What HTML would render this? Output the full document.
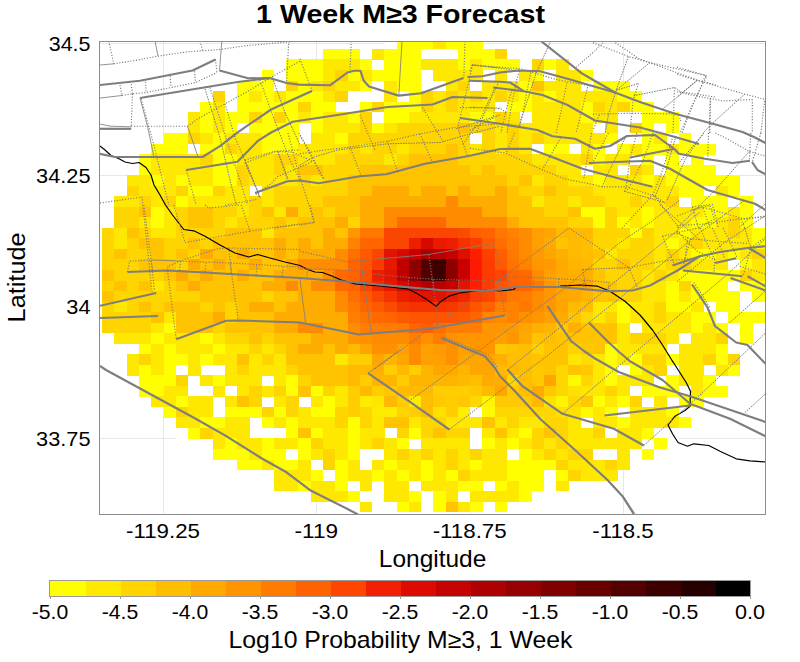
<!DOCTYPE html>
<html><head><meta charset="utf-8"><title>1 Week M≥3 Forecast</title>
<style>html,body{margin:0;padding:0;background:#fff;}svg{display:block;}text{font-family:"Liberation Sans",sans-serif;fill:#000;}</style>
</head><body>
<svg width="800" height="662" viewBox="0 0 800 662">
<rect x="0" y="0" width="800" height="662" fill="#fff"/>
<defs><clipPath id="pc"><rect x="100" y="42" width="665" height="472"/></clipPath></defs>
<g stroke="#e8e8e8" stroke-width="1" shape-rendering="crispEdges">
<line x1="163.5" y1="42" x2="163.5" y2="514"/>
<line x1="316.5" y1="42" x2="316.5" y2="514"/>
<line x1="470.5" y1="42" x2="470.5" y2="514"/>
<line x1="623.5" y1="42" x2="623.5" y2="514"/>
<line x1="100" y1="43.5" x2="765" y2="43.5"/>
<line x1="100" y1="175.5" x2="765" y2="175.5"/>
<line x1="100" y1="306.5" x2="765" y2="306.5"/>
<line x1="100" y1="438.5" x2="765" y2="438.5"/>
</g>
<g clip-path="url(#pc)" shape-rendering="crispEdges">
<rect x="384.30" y="38.39" width="85.87" height="10.83" fill="#fff"/>
<rect x="322.97" y="48.92" width="220.80" height="10.83" fill="#fff"/>
<rect x="286.17" y="59.45" width="294.40" height="10.83" fill="#fff"/>
<rect x="261.64" y="69.97" width="343.47" height="10.83" fill="#fff"/>
<rect x="237.10" y="80.50" width="392.53" height="10.83" fill="#fff"/>
<rect x="224.84" y="91.03" width="417.07" height="10.83" fill="#fff"/>
<rect x="200.30" y="101.56" width="466.13" height="10.83" fill="#fff"/>
<rect x="188.04" y="112.09" width="490.67" height="10.83" fill="#fff"/>
<rect x="175.77" y="122.61" width="515.20" height="10.83" fill="#fff"/>
<rect x="163.50" y="133.14" width="539.73" height="10.83" fill="#fff"/>
<rect x="151.24" y="143.67" width="564.27" height="10.83" fill="#fff"/>
<rect x="138.97" y="154.20" width="576.53" height="10.83" fill="#fff"/>
<rect x="138.97" y="164.73" width="588.80" height="10.83" fill="#fff"/>
<rect x="126.70" y="175.25" width="613.34" height="10.83" fill="#fff"/>
<rect x="126.70" y="185.78" width="613.34" height="10.83" fill="#fff"/>
<rect x="114.44" y="196.31" width="637.87" height="10.83" fill="#fff"/>
<rect x="114.44" y="206.84" width="637.87" height="10.83" fill="#fff"/>
<rect x="114.44" y="217.37" width="637.87" height="10.83" fill="#fff"/>
<rect x="102.17" y="227.89" width="662.40" height="10.83" fill="#fff"/>
<rect x="102.17" y="238.42" width="662.40" height="10.83" fill="#fff"/>
<rect x="102.17" y="248.95" width="662.40" height="10.83" fill="#fff"/>
<rect x="102.17" y="259.48" width="662.40" height="10.83" fill="#fff"/>
<rect x="102.17" y="270.01" width="662.40" height="10.83" fill="#fff"/>
<rect x="102.17" y="280.53" width="662.40" height="10.83" fill="#fff"/>
<rect x="102.17" y="291.06" width="662.40" height="10.83" fill="#fff"/>
<rect x="102.17" y="301.59" width="662.40" height="10.83" fill="#fff"/>
<rect x="102.17" y="312.12" width="662.40" height="10.83" fill="#fff"/>
<rect x="102.17" y="322.65" width="650.14" height="10.83" fill="#fff"/>
<rect x="114.44" y="333.17" width="637.87" height="10.83" fill="#fff"/>
<rect x="114.44" y="343.70" width="637.87" height="10.83" fill="#fff"/>
<rect x="114.44" y="354.23" width="625.60" height="10.83" fill="#fff"/>
<rect x="126.70" y="364.76" width="613.34" height="10.83" fill="#fff"/>
<rect x="126.70" y="375.29" width="601.07" height="10.83" fill="#fff"/>
<rect x="138.97" y="385.81" width="588.80" height="10.83" fill="#fff"/>
<rect x="151.24" y="396.34" width="564.27" height="10.83" fill="#fff"/>
<rect x="163.50" y="406.87" width="539.73" height="10.83" fill="#fff"/>
<rect x="163.50" y="417.40" width="527.47" height="10.83" fill="#fff"/>
<rect x="175.77" y="427.93" width="502.93" height="10.83" fill="#fff"/>
<rect x="200.30" y="438.45" width="466.13" height="10.83" fill="#fff"/>
<rect x="212.57" y="448.98" width="441.60" height="10.83" fill="#fff"/>
<rect x="224.84" y="459.51" width="417.07" height="10.83" fill="#fff"/>
<rect x="249.37" y="470.04" width="368.00" height="10.83" fill="#fff"/>
<rect x="273.90" y="480.57" width="318.93" height="10.83" fill="#fff"/>
<rect x="310.70" y="491.09" width="245.33" height="10.83" fill="#fff"/>
<rect x="347.50" y="501.62" width="171.73" height="10.83" fill="#fff"/>
<rect x="396.57" y="38.39" width="37.10" height="10.83" fill="#ffff00"/>
<rect x="433.37" y="38.39" width="12.57" height="10.83" fill="#ffe800"/>
<rect x="445.64" y="38.39" width="37.10" height="10.83" fill="#ffff00"/>
<rect x="322.97" y="48.92" width="37.10" height="10.83" fill="#ffff00"/>
<rect x="372.04" y="48.92" width="12.57" height="10.83" fill="#ffe800"/>
<rect x="384.30" y="48.92" width="37.10" height="10.83" fill="#ffff00"/>
<rect x="457.90" y="48.92" width="37.10" height="10.83" fill="#ffff00"/>
<rect x="494.70" y="48.92" width="12.57" height="10.83" fill="#ffd500"/>
<rect x="286.17" y="59.45" width="37.10" height="10.83" fill="#ffff00"/>
<rect x="322.97" y="59.45" width="37.10" height="10.83" fill="#ffe800"/>
<rect x="359.77" y="59.45" width="12.57" height="10.83" fill="#ffff00"/>
<rect x="384.30" y="59.45" width="37.10" height="10.83" fill="#ffff00"/>
<rect x="421.10" y="59.45" width="37.10" height="10.83" fill="#ffe800"/>
<rect x="457.90" y="59.45" width="12.57" height="10.83" fill="#ffff00"/>
<rect x="470.17" y="59.45" width="12.57" height="10.83" fill="#ffe800"/>
<rect x="482.44" y="59.45" width="37.10" height="10.83" fill="#ffff00"/>
<rect x="531.50" y="59.45" width="12.57" height="10.83" fill="#ffd500"/>
<rect x="543.77" y="59.45" width="12.57" height="10.83" fill="#ffff00"/>
<rect x="556.04" y="59.45" width="12.57" height="10.83" fill="#ffe800"/>
<rect x="261.64" y="69.97" width="12.57" height="10.83" fill="#ffff00"/>
<rect x="286.17" y="69.97" width="37.10" height="10.83" fill="#ffff00"/>
<rect x="322.97" y="69.97" width="12.57" height="10.83" fill="#ffe800"/>
<rect x="335.24" y="69.97" width="12.57" height="10.83" fill="#ffd500"/>
<rect x="347.50" y="69.97" width="12.57" height="10.83" fill="#ffff00"/>
<rect x="359.77" y="69.97" width="12.57" height="10.83" fill="#ffe800"/>
<rect x="372.04" y="69.97" width="49.37" height="10.83" fill="#ffff00"/>
<rect x="433.37" y="69.97" width="49.37" height="10.83" fill="#ffe800"/>
<rect x="494.70" y="69.97" width="12.57" height="10.83" fill="#ffe800"/>
<rect x="519.24" y="69.97" width="12.57" height="10.83" fill="#ffe800"/>
<rect x="531.50" y="69.97" width="12.57" height="10.83" fill="#ffff00"/>
<rect x="556.04" y="69.97" width="24.83" height="10.83" fill="#ffe800"/>
<rect x="580.57" y="69.97" width="12.57" height="10.83" fill="#ffff00"/>
<rect x="237.10" y="80.50" width="37.10" height="10.83" fill="#ffff00"/>
<rect x="286.17" y="80.50" width="12.57" height="10.83" fill="#ffd500"/>
<rect x="298.44" y="80.50" width="12.57" height="10.83" fill="#ffff00"/>
<rect x="310.70" y="80.50" width="12.57" height="10.83" fill="#ffe800"/>
<rect x="322.97" y="80.50" width="12.57" height="10.83" fill="#ffd500"/>
<rect x="335.24" y="80.50" width="24.83" height="10.83" fill="#ffe800"/>
<rect x="359.77" y="80.50" width="12.57" height="10.83" fill="#ffff00"/>
<rect x="384.30" y="80.50" width="12.57" height="10.83" fill="#ffe800"/>
<rect x="396.57" y="80.50" width="24.83" height="10.83" fill="#ffff00"/>
<rect x="445.64" y="80.50" width="12.57" height="10.83" fill="#ffe800"/>
<rect x="457.90" y="80.50" width="12.57" height="10.83" fill="#ffd500"/>
<rect x="482.44" y="80.50" width="37.10" height="10.83" fill="#ffe800"/>
<rect x="519.24" y="80.50" width="12.57" height="10.83" fill="#ffff00"/>
<rect x="531.50" y="80.50" width="12.57" height="10.83" fill="#ffc300"/>
<rect x="543.77" y="80.50" width="37.10" height="10.83" fill="#ffe800"/>
<rect x="592.84" y="80.50" width="37.10" height="10.83" fill="#ffff00"/>
<rect x="212.57" y="91.03" width="12.57" height="10.83" fill="#ffd500"/>
<rect x="237.10" y="91.03" width="12.57" height="10.83" fill="#ffff00"/>
<rect x="249.37" y="91.03" width="12.57" height="10.83" fill="#ffe800"/>
<rect x="261.64" y="91.03" width="12.57" height="10.83" fill="#ffff00"/>
<rect x="273.90" y="91.03" width="12.57" height="10.83" fill="#ffe800"/>
<rect x="286.17" y="91.03" width="37.10" height="10.83" fill="#ffff00"/>
<rect x="322.97" y="91.03" width="12.57" height="10.83" fill="#ffe800"/>
<rect x="335.24" y="91.03" width="12.57" height="10.83" fill="#ffd500"/>
<rect x="384.30" y="91.03" width="12.57" height="10.83" fill="#ffe800"/>
<rect x="408.84" y="91.03" width="12.57" height="10.83" fill="#ffff00"/>
<rect x="421.10" y="91.03" width="12.57" height="10.83" fill="#ffd500"/>
<rect x="433.37" y="91.03" width="12.57" height="10.83" fill="#ffe800"/>
<rect x="445.64" y="91.03" width="12.57" height="10.83" fill="#ffd500"/>
<rect x="457.90" y="91.03" width="12.57" height="10.83" fill="#ffe800"/>
<rect x="470.17" y="91.03" width="12.57" height="10.83" fill="#ffd500"/>
<rect x="482.44" y="91.03" width="12.57" height="10.83" fill="#ffe800"/>
<rect x="494.70" y="91.03" width="12.57" height="10.83" fill="#ffd500"/>
<rect x="506.97" y="91.03" width="12.57" height="10.83" fill="#ffe800"/>
<rect x="519.24" y="91.03" width="12.57" height="10.83" fill="#ffff00"/>
<rect x="531.50" y="91.03" width="12.57" height="10.83" fill="#ffe800"/>
<rect x="543.77" y="91.03" width="12.57" height="10.83" fill="#ffff00"/>
<rect x="556.04" y="91.03" width="61.63" height="10.83" fill="#ffe800"/>
<rect x="617.37" y="91.03" width="24.83" height="10.83" fill="#ffff00"/>
<rect x="200.30" y="101.56" width="12.57" height="10.83" fill="#ffff00"/>
<rect x="212.57" y="101.56" width="12.57" height="10.83" fill="#ffe800"/>
<rect x="237.10" y="101.56" width="61.63" height="10.83" fill="#ffff00"/>
<rect x="298.44" y="101.56" width="12.57" height="10.83" fill="#ffd500"/>
<rect x="310.70" y="101.56" width="24.83" height="10.83" fill="#ffff00"/>
<rect x="359.77" y="101.56" width="12.57" height="10.83" fill="#ffff00"/>
<rect x="372.04" y="101.56" width="12.57" height="10.83" fill="#ffd500"/>
<rect x="384.30" y="101.56" width="37.10" height="10.83" fill="#ffff00"/>
<rect x="421.10" y="101.56" width="12.57" height="10.83" fill="#ffd500"/>
<rect x="433.37" y="101.56" width="12.57" height="10.83" fill="#ffe800"/>
<rect x="445.64" y="101.56" width="12.57" height="10.83" fill="#ffd500"/>
<rect x="457.90" y="101.56" width="37.10" height="10.83" fill="#ffe800"/>
<rect x="506.97" y="101.56" width="24.83" height="10.83" fill="#ffff00"/>
<rect x="531.50" y="101.56" width="49.37" height="10.83" fill="#ffe800"/>
<rect x="580.57" y="101.56" width="12.57" height="10.83" fill="#ffff00"/>
<rect x="592.84" y="101.56" width="12.57" height="10.83" fill="#ffd500"/>
<rect x="605.10" y="101.56" width="12.57" height="10.83" fill="#ffe800"/>
<rect x="617.37" y="101.56" width="12.57" height="10.83" fill="#ffd500"/>
<rect x="629.64" y="101.56" width="24.83" height="10.83" fill="#ffff00"/>
<rect x="188.04" y="112.09" width="12.57" height="10.83" fill="#ffe800"/>
<rect x="200.30" y="112.09" width="12.57" height="10.83" fill="#ffff00"/>
<rect x="212.57" y="112.09" width="12.57" height="10.83" fill="#ffe800"/>
<rect x="224.84" y="112.09" width="24.83" height="10.83" fill="#ffff00"/>
<rect x="249.37" y="112.09" width="12.57" height="10.83" fill="#ffd500"/>
<rect x="261.64" y="112.09" width="12.57" height="10.83" fill="#ffff00"/>
<rect x="273.90" y="112.09" width="12.57" height="10.83" fill="#ffd500"/>
<rect x="286.17" y="112.09" width="12.57" height="10.83" fill="#ffff00"/>
<rect x="298.44" y="112.09" width="12.57" height="10.83" fill="#ffe800"/>
<rect x="310.70" y="112.09" width="12.57" height="10.83" fill="#ffff00"/>
<rect x="322.97" y="112.09" width="24.83" height="10.83" fill="#ffe800"/>
<rect x="347.50" y="112.09" width="12.57" height="10.83" fill="#ffff00"/>
<rect x="359.77" y="112.09" width="12.57" height="10.83" fill="#ffd500"/>
<rect x="384.30" y="112.09" width="24.83" height="10.83" fill="#ffff00"/>
<rect x="408.84" y="112.09" width="61.63" height="10.83" fill="#ffe800"/>
<rect x="470.17" y="112.09" width="24.83" height="10.83" fill="#ffff00"/>
<rect x="494.70" y="112.09" width="12.57" height="10.83" fill="#ffd500"/>
<rect x="506.97" y="112.09" width="12.57" height="10.83" fill="#ffe800"/>
<rect x="531.50" y="112.09" width="49.37" height="10.83" fill="#ffe800"/>
<rect x="580.57" y="112.09" width="12.57" height="10.83" fill="#ffff00"/>
<rect x="592.84" y="112.09" width="24.83" height="10.83" fill="#ffe800"/>
<rect x="641.90" y="112.09" width="37.10" height="10.83" fill="#ffff00"/>
<rect x="188.04" y="122.61" width="12.57" height="10.83" fill="#ffe800"/>
<rect x="200.30" y="122.61" width="12.57" height="10.83" fill="#ffff00"/>
<rect x="212.57" y="122.61" width="12.57" height="10.83" fill="#ffe800"/>
<rect x="224.84" y="122.61" width="12.57" height="10.83" fill="#ffff00"/>
<rect x="249.37" y="122.61" width="49.37" height="10.83" fill="#ffff00"/>
<rect x="310.70" y="122.61" width="12.57" height="10.83" fill="#ffff00"/>
<rect x="322.97" y="122.61" width="37.10" height="10.83" fill="#ffe800"/>
<rect x="359.77" y="122.61" width="12.57" height="10.83" fill="#ffd500"/>
<rect x="372.04" y="122.61" width="12.57" height="10.83" fill="#ffff00"/>
<rect x="384.30" y="122.61" width="12.57" height="10.83" fill="#ffe800"/>
<rect x="396.57" y="122.61" width="61.63" height="10.83" fill="#ffd500"/>
<rect x="457.90" y="122.61" width="12.57" height="10.83" fill="#ffc300"/>
<rect x="470.17" y="122.61" width="24.83" height="10.83" fill="#ffd500"/>
<rect x="494.70" y="122.61" width="12.57" height="10.83" fill="#ffe800"/>
<rect x="506.97" y="122.61" width="12.57" height="10.83" fill="#ffd500"/>
<rect x="519.24" y="122.61" width="73.90" height="10.83" fill="#ffe800"/>
<rect x="605.10" y="122.61" width="12.57" height="10.83" fill="#ffe800"/>
<rect x="629.64" y="122.61" width="12.57" height="10.83" fill="#ffd500"/>
<rect x="641.90" y="122.61" width="12.57" height="10.83" fill="#ffff00"/>
<rect x="666.44" y="122.61" width="12.57" height="10.83" fill="#ffff00"/>
<rect x="163.50" y="133.14" width="24.83" height="10.83" fill="#ffff00"/>
<rect x="188.04" y="133.14" width="12.57" height="10.83" fill="#ffd500"/>
<rect x="200.30" y="133.14" width="12.57" height="10.83" fill="#ffe800"/>
<rect x="212.57" y="133.14" width="12.57" height="10.83" fill="#ffff00"/>
<rect x="224.84" y="133.14" width="37.10" height="10.83" fill="#ffe800"/>
<rect x="261.64" y="133.14" width="37.10" height="10.83" fill="#ffff00"/>
<rect x="310.70" y="133.14" width="24.83" height="10.83" fill="#ffe800"/>
<rect x="335.24" y="133.14" width="12.57" height="10.83" fill="#ffff00"/>
<rect x="347.50" y="133.14" width="122.97" height="10.83" fill="#ffd500"/>
<rect x="482.44" y="133.14" width="12.57" height="10.83" fill="#ffd500"/>
<rect x="494.70" y="133.14" width="12.57" height="10.83" fill="#ffe800"/>
<rect x="506.97" y="133.14" width="12.57" height="10.83" fill="#ffd500"/>
<rect x="519.24" y="133.14" width="12.57" height="10.83" fill="#ffe800"/>
<rect x="531.50" y="133.14" width="12.57" height="10.83" fill="#ffd500"/>
<rect x="543.77" y="133.14" width="61.63" height="10.83" fill="#ffe800"/>
<rect x="605.10" y="133.14" width="12.57" height="10.83" fill="#ffff00"/>
<rect x="641.90" y="133.14" width="12.57" height="10.83" fill="#ffff00"/>
<rect x="654.17" y="133.14" width="12.57" height="10.83" fill="#ffe800"/>
<rect x="678.70" y="133.14" width="12.57" height="10.83" fill="#ffff00"/>
<rect x="151.24" y="143.67" width="37.10" height="10.83" fill="#ffff00"/>
<rect x="200.30" y="143.67" width="24.83" height="10.83" fill="#ffff00"/>
<rect x="224.84" y="143.67" width="12.57" height="10.83" fill="#ffd500"/>
<rect x="237.10" y="143.67" width="24.83" height="10.83" fill="#ffe800"/>
<rect x="261.64" y="143.67" width="37.10" height="10.83" fill="#ffff00"/>
<rect x="298.44" y="143.67" width="49.37" height="10.83" fill="#ffe800"/>
<rect x="347.50" y="143.67" width="12.57" height="10.83" fill="#ffd500"/>
<rect x="359.77" y="143.67" width="12.57" height="10.83" fill="#ffe800"/>
<rect x="372.04" y="143.67" width="24.83" height="10.83" fill="#ffd500"/>
<rect x="396.57" y="143.67" width="12.57" height="10.83" fill="#ffe800"/>
<rect x="408.84" y="143.67" width="37.10" height="10.83" fill="#ffd500"/>
<rect x="445.64" y="143.67" width="12.57" height="10.83" fill="#ffc300"/>
<rect x="457.90" y="143.67" width="12.57" height="10.83" fill="#ffd500"/>
<rect x="470.17" y="143.67" width="12.57" height="10.83" fill="#ffe800"/>
<rect x="482.44" y="143.67" width="12.57" height="10.83" fill="#ffd500"/>
<rect x="494.70" y="143.67" width="12.57" height="10.83" fill="#ffe800"/>
<rect x="506.97" y="143.67" width="12.57" height="10.83" fill="#ffd500"/>
<rect x="519.24" y="143.67" width="12.57" height="10.83" fill="#ffe800"/>
<rect x="543.77" y="143.67" width="24.83" height="10.83" fill="#ffff00"/>
<rect x="580.57" y="143.67" width="12.57" height="10.83" fill="#ffe800"/>
<rect x="592.84" y="143.67" width="12.57" height="10.83" fill="#ffff00"/>
<rect x="617.37" y="143.67" width="12.57" height="10.83" fill="#ffff00"/>
<rect x="629.64" y="143.67" width="12.57" height="10.83" fill="#ffe800"/>
<rect x="641.90" y="143.67" width="24.83" height="10.83" fill="#ffff00"/>
<rect x="666.44" y="143.67" width="12.57" height="10.83" fill="#ffe800"/>
<rect x="678.70" y="143.67" width="37.10" height="10.83" fill="#ffff00"/>
<rect x="138.97" y="154.20" width="12.57" height="10.83" fill="#ffff00"/>
<rect x="151.24" y="154.20" width="49.37" height="10.83" fill="#ffe800"/>
<rect x="200.30" y="154.20" width="12.57" height="10.83" fill="#ffd500"/>
<rect x="212.57" y="154.20" width="24.83" height="10.83" fill="#ffff00"/>
<rect x="237.10" y="154.20" width="37.10" height="10.83" fill="#ffe800"/>
<rect x="273.90" y="154.20" width="24.83" height="10.83" fill="#ffd500"/>
<rect x="298.44" y="154.20" width="37.10" height="10.83" fill="#ffe800"/>
<rect x="335.24" y="154.20" width="49.37" height="10.83" fill="#ffd500"/>
<rect x="384.30" y="154.20" width="12.57" height="10.83" fill="#ffe800"/>
<rect x="396.57" y="154.20" width="12.57" height="10.83" fill="#ffd500"/>
<rect x="408.84" y="154.20" width="49.37" height="10.83" fill="#ffc300"/>
<rect x="457.90" y="154.20" width="73.90" height="10.83" fill="#ffd500"/>
<rect x="531.50" y="154.20" width="49.37" height="10.83" fill="#ffe800"/>
<rect x="580.57" y="154.20" width="12.57" height="10.83" fill="#ffd500"/>
<rect x="592.84" y="154.20" width="12.57" height="10.83" fill="#ffff00"/>
<rect x="605.10" y="154.20" width="24.83" height="10.83" fill="#ffe800"/>
<rect x="641.90" y="154.20" width="12.57" height="10.83" fill="#ffff00"/>
<rect x="666.44" y="154.20" width="12.57" height="10.83" fill="#ffff00"/>
<rect x="690.97" y="154.20" width="12.57" height="10.83" fill="#ffff00"/>
<rect x="138.97" y="164.73" width="12.57" height="10.83" fill="#ffff00"/>
<rect x="151.24" y="164.73" width="61.63" height="10.83" fill="#ffe800"/>
<rect x="212.57" y="164.73" width="24.83" height="10.83" fill="#ffff00"/>
<rect x="237.10" y="164.73" width="12.57" height="10.83" fill="#ffd500"/>
<rect x="249.37" y="164.73" width="24.83" height="10.83" fill="#ffe800"/>
<rect x="273.90" y="164.73" width="12.57" height="10.83" fill="#ffd500"/>
<rect x="286.17" y="164.73" width="12.57" height="10.83" fill="#ffe800"/>
<rect x="298.44" y="164.73" width="24.83" height="10.83" fill="#ffc300"/>
<rect x="322.97" y="164.73" width="37.10" height="10.83" fill="#ffd500"/>
<rect x="359.77" y="164.73" width="110.70" height="10.83" fill="#ffc300"/>
<rect x="470.17" y="164.73" width="12.57" height="10.83" fill="#ffd500"/>
<rect x="482.44" y="164.73" width="12.57" height="10.83" fill="#ffc300"/>
<rect x="494.70" y="164.73" width="61.63" height="10.83" fill="#ffd500"/>
<rect x="556.04" y="164.73" width="24.83" height="10.83" fill="#ffe800"/>
<rect x="592.84" y="164.73" width="24.83" height="10.83" fill="#ffe800"/>
<rect x="629.64" y="164.73" width="12.57" height="10.83" fill="#ffd500"/>
<rect x="641.90" y="164.73" width="12.57" height="10.83" fill="#ffe800"/>
<rect x="666.44" y="164.73" width="49.37" height="10.83" fill="#ffff00"/>
<rect x="126.70" y="175.25" width="24.83" height="10.83" fill="#ffe800"/>
<rect x="151.24" y="175.25" width="12.57" height="10.83" fill="#ffff00"/>
<rect x="163.50" y="175.25" width="12.57" height="10.83" fill="#ffe800"/>
<rect x="175.77" y="175.25" width="12.57" height="10.83" fill="#ffff00"/>
<rect x="188.04" y="175.25" width="24.83" height="10.83" fill="#ffe800"/>
<rect x="212.57" y="175.25" width="24.83" height="10.83" fill="#ffff00"/>
<rect x="237.10" y="175.25" width="12.57" height="10.83" fill="#ffd500"/>
<rect x="249.37" y="175.25" width="49.37" height="10.83" fill="#ffe800"/>
<rect x="298.44" y="175.25" width="12.57" height="10.83" fill="#ffd500"/>
<rect x="310.70" y="175.25" width="12.57" height="10.83" fill="#ffe800"/>
<rect x="322.97" y="175.25" width="24.83" height="10.83" fill="#ffd500"/>
<rect x="347.50" y="175.25" width="159.77" height="10.83" fill="#ffc300"/>
<rect x="506.97" y="175.25" width="12.57" height="10.83" fill="#ffd500"/>
<rect x="519.24" y="175.25" width="12.57" height="10.83" fill="#ffc300"/>
<rect x="531.50" y="175.25" width="12.57" height="10.83" fill="#ffe800"/>
<rect x="543.77" y="175.25" width="24.83" height="10.83" fill="#ffd500"/>
<rect x="568.30" y="175.25" width="24.83" height="10.83" fill="#ffe800"/>
<rect x="592.84" y="175.25" width="12.57" height="10.83" fill="#ffff00"/>
<rect x="605.10" y="175.25" width="37.10" height="10.83" fill="#ffe800"/>
<rect x="641.90" y="175.25" width="12.57" height="10.83" fill="#ffff00"/>
<rect x="654.17" y="175.25" width="12.57" height="10.83" fill="#ffe800"/>
<rect x="666.44" y="175.25" width="73.90" height="10.83" fill="#ffff00"/>
<rect x="126.70" y="185.78" width="12.57" height="10.83" fill="#ffd500"/>
<rect x="138.97" y="185.78" width="37.10" height="10.83" fill="#ffe800"/>
<rect x="175.77" y="185.78" width="12.57" height="10.83" fill="#ffd500"/>
<rect x="188.04" y="185.78" width="24.83" height="10.83" fill="#ffff00"/>
<rect x="212.57" y="185.78" width="12.57" height="10.83" fill="#ffd500"/>
<rect x="224.84" y="185.78" width="24.83" height="10.83" fill="#ffe800"/>
<rect x="261.64" y="185.78" width="12.57" height="10.83" fill="#ffe800"/>
<rect x="273.90" y="185.78" width="73.90" height="10.83" fill="#ffd500"/>
<rect x="347.50" y="185.78" width="24.83" height="10.83" fill="#ffc300"/>
<rect x="372.04" y="185.78" width="37.10" height="10.83" fill="#ffac00"/>
<rect x="408.84" y="185.78" width="12.57" height="10.83" fill="#ffc300"/>
<rect x="421.10" y="185.78" width="24.83" height="10.83" fill="#ffac00"/>
<rect x="445.64" y="185.78" width="12.57" height="10.83" fill="#ffc300"/>
<rect x="457.90" y="185.78" width="12.57" height="10.83" fill="#ffac00"/>
<rect x="470.17" y="185.78" width="24.83" height="10.83" fill="#ffc300"/>
<rect x="494.70" y="185.78" width="12.57" height="10.83" fill="#ffac00"/>
<rect x="506.97" y="185.78" width="12.57" height="10.83" fill="#ffc300"/>
<rect x="519.24" y="185.78" width="24.83" height="10.83" fill="#ffd500"/>
<rect x="543.77" y="185.78" width="12.57" height="10.83" fill="#ffc300"/>
<rect x="556.04" y="185.78" width="37.10" height="10.83" fill="#ffd500"/>
<rect x="592.84" y="185.78" width="86.17" height="10.83" fill="#ffe800"/>
<rect x="678.70" y="185.78" width="24.83" height="10.83" fill="#ffff00"/>
<rect x="715.50" y="185.78" width="12.57" height="10.83" fill="#ffe800"/>
<rect x="727.77" y="185.78" width="12.57" height="10.83" fill="#ffff00"/>
<rect x="114.44" y="196.31" width="24.83" height="10.83" fill="#ffe800"/>
<rect x="138.97" y="196.31" width="12.57" height="10.83" fill="#ffd500"/>
<rect x="151.24" y="196.31" width="12.57" height="10.83" fill="#ffe800"/>
<rect x="163.50" y="196.31" width="12.57" height="10.83" fill="#ffd500"/>
<rect x="175.77" y="196.31" width="12.57" height="10.83" fill="#ffff00"/>
<rect x="188.04" y="196.31" width="61.63" height="10.83" fill="#ffe800"/>
<rect x="249.37" y="196.31" width="12.57" height="10.83" fill="#ffd500"/>
<rect x="261.64" y="196.31" width="12.57" height="10.83" fill="#ffe800"/>
<rect x="273.90" y="196.31" width="49.37" height="10.83" fill="#ffd500"/>
<rect x="322.97" y="196.31" width="37.10" height="10.83" fill="#ffc300"/>
<rect x="359.77" y="196.31" width="86.17" height="10.83" fill="#ffac00"/>
<rect x="445.64" y="196.31" width="12.57" height="10.83" fill="#ff8c00"/>
<rect x="457.90" y="196.31" width="49.37" height="10.83" fill="#ffac00"/>
<rect x="506.97" y="196.31" width="24.83" height="10.83" fill="#ffc300"/>
<rect x="531.50" y="196.31" width="12.57" height="10.83" fill="#ffe800"/>
<rect x="543.77" y="196.31" width="24.83" height="10.83" fill="#ffd500"/>
<rect x="568.30" y="196.31" width="12.57" height="10.83" fill="#ffe800"/>
<rect x="580.57" y="196.31" width="24.83" height="10.83" fill="#ffd500"/>
<rect x="605.10" y="196.31" width="24.83" height="10.83" fill="#ffe800"/>
<rect x="629.64" y="196.31" width="12.57" height="10.83" fill="#ffd500"/>
<rect x="641.90" y="196.31" width="24.83" height="10.83" fill="#ffe800"/>
<rect x="666.44" y="196.31" width="12.57" height="10.83" fill="#ffd500"/>
<rect x="690.97" y="196.31" width="37.10" height="10.83" fill="#ffff00"/>
<rect x="740.04" y="196.31" width="12.57" height="10.83" fill="#ffff00"/>
<rect x="114.44" y="206.84" width="24.83" height="10.83" fill="#ffd500"/>
<rect x="138.97" y="206.84" width="12.57" height="10.83" fill="#ffc300"/>
<rect x="151.24" y="206.84" width="12.57" height="10.83" fill="#ffff00"/>
<rect x="163.50" y="206.84" width="12.57" height="10.83" fill="#ffe800"/>
<rect x="175.77" y="206.84" width="12.57" height="10.83" fill="#ffd500"/>
<rect x="188.04" y="206.84" width="24.83" height="10.83" fill="#ffc300"/>
<rect x="212.57" y="206.84" width="24.83" height="10.83" fill="#ffd500"/>
<rect x="237.10" y="206.84" width="12.57" height="10.83" fill="#ffe800"/>
<rect x="249.37" y="206.84" width="12.57" height="10.83" fill="#ffd500"/>
<rect x="261.64" y="206.84" width="12.57" height="10.83" fill="#ffc300"/>
<rect x="273.90" y="206.84" width="12.57" height="10.83" fill="#ffe800"/>
<rect x="286.17" y="206.84" width="12.57" height="10.83" fill="#ffac00"/>
<rect x="298.44" y="206.84" width="12.57" height="10.83" fill="#ffd500"/>
<rect x="310.70" y="206.84" width="12.57" height="10.83" fill="#ffc300"/>
<rect x="322.97" y="206.84" width="12.57" height="10.83" fill="#ffd500"/>
<rect x="335.24" y="206.84" width="24.83" height="10.83" fill="#ffc300"/>
<rect x="359.77" y="206.84" width="24.83" height="10.83" fill="#ffac00"/>
<rect x="384.30" y="206.84" width="98.43" height="10.83" fill="#ff8c00"/>
<rect x="482.44" y="206.84" width="24.83" height="10.83" fill="#ffac00"/>
<rect x="506.97" y="206.84" width="37.10" height="10.83" fill="#ffc300"/>
<rect x="543.77" y="206.84" width="24.83" height="10.83" fill="#ffd500"/>
<rect x="568.30" y="206.84" width="12.57" height="10.83" fill="#ffc300"/>
<rect x="580.57" y="206.84" width="24.83" height="10.83" fill="#ffff00"/>
<rect x="605.10" y="206.84" width="12.57" height="10.83" fill="#ffd500"/>
<rect x="617.37" y="206.84" width="24.83" height="10.83" fill="#ffe800"/>
<rect x="641.90" y="206.84" width="12.57" height="10.83" fill="#ffff00"/>
<rect x="654.17" y="206.84" width="49.37" height="10.83" fill="#ffe800"/>
<rect x="703.24" y="206.84" width="24.83" height="10.83" fill="#ffff00"/>
<rect x="727.77" y="206.84" width="12.57" height="10.83" fill="#ffe800"/>
<rect x="740.04" y="206.84" width="12.57" height="10.83" fill="#ffff00"/>
<rect x="114.44" y="217.37" width="24.83" height="10.83" fill="#ffd500"/>
<rect x="138.97" y="217.37" width="12.57" height="10.83" fill="#ffe800"/>
<rect x="151.24" y="217.37" width="12.57" height="10.83" fill="#ffff00"/>
<rect x="163.50" y="217.37" width="12.57" height="10.83" fill="#ffe800"/>
<rect x="175.77" y="217.37" width="12.57" height="10.83" fill="#ffd500"/>
<rect x="188.04" y="217.37" width="24.83" height="10.83" fill="#ffc300"/>
<rect x="212.57" y="217.37" width="12.57" height="10.83" fill="#ffd500"/>
<rect x="224.84" y="217.37" width="12.57" height="10.83" fill="#ffe800"/>
<rect x="237.10" y="217.37" width="37.10" height="10.83" fill="#ffd500"/>
<rect x="273.90" y="217.37" width="12.57" height="10.83" fill="#ffc300"/>
<rect x="286.17" y="217.37" width="12.57" height="10.83" fill="#ffd500"/>
<rect x="298.44" y="217.37" width="37.10" height="10.83" fill="#ffc300"/>
<rect x="335.24" y="217.37" width="12.57" height="10.83" fill="#ffac00"/>
<rect x="347.50" y="217.37" width="12.57" height="10.83" fill="#ffd500"/>
<rect x="359.77" y="217.37" width="24.83" height="10.83" fill="#ffac00"/>
<rect x="384.30" y="217.37" width="12.57" height="10.83" fill="#ff8c00"/>
<rect x="396.57" y="217.37" width="49.37" height="10.83" fill="#ff6900"/>
<rect x="445.64" y="217.37" width="61.63" height="10.83" fill="#ff8c00"/>
<rect x="506.97" y="217.37" width="12.57" height="10.83" fill="#ffac00"/>
<rect x="519.24" y="217.37" width="49.37" height="10.83" fill="#ffc300"/>
<rect x="568.30" y="217.37" width="24.83" height="10.83" fill="#ffd500"/>
<rect x="592.84" y="217.37" width="12.57" height="10.83" fill="#ffff00"/>
<rect x="605.10" y="217.37" width="12.57" height="10.83" fill="#ffd500"/>
<rect x="617.37" y="217.37" width="12.57" height="10.83" fill="#ffff00"/>
<rect x="629.64" y="217.37" width="12.57" height="10.83" fill="#ffe800"/>
<rect x="641.90" y="217.37" width="12.57" height="10.83" fill="#ffff00"/>
<rect x="654.17" y="217.37" width="37.10" height="10.83" fill="#ffe800"/>
<rect x="690.97" y="217.37" width="24.83" height="10.83" fill="#ffff00"/>
<rect x="715.50" y="217.37" width="12.57" height="10.83" fill="#ffe800"/>
<rect x="727.77" y="217.37" width="12.57" height="10.83" fill="#ffd500"/>
<rect x="740.04" y="217.37" width="12.57" height="10.83" fill="#ffff00"/>
<rect x="102.17" y="227.89" width="12.57" height="10.83" fill="#ffd500"/>
<rect x="114.44" y="227.89" width="12.57" height="10.83" fill="#ffe800"/>
<rect x="126.70" y="227.89" width="12.57" height="10.83" fill="#ffc300"/>
<rect x="138.97" y="227.89" width="12.57" height="10.83" fill="#ffd500"/>
<rect x="151.24" y="227.89" width="24.83" height="10.83" fill="#ffe800"/>
<rect x="175.77" y="227.89" width="49.37" height="10.83" fill="#ffd500"/>
<rect x="224.84" y="227.89" width="37.10" height="10.83" fill="#ffc300"/>
<rect x="261.64" y="227.89" width="12.57" height="10.83" fill="#ffe800"/>
<rect x="273.90" y="227.89" width="49.37" height="10.83" fill="#ffc300"/>
<rect x="322.97" y="227.89" width="12.57" height="10.83" fill="#ffac00"/>
<rect x="335.24" y="227.89" width="12.57" height="10.83" fill="#ffc300"/>
<rect x="347.50" y="227.89" width="12.57" height="10.83" fill="#ff9600"/>
<rect x="359.77" y="227.89" width="24.83" height="10.83" fill="#ff7800"/>
<rect x="384.30" y="227.89" width="73.90" height="10.83" fill="#fa4600"/>
<rect x="457.90" y="227.89" width="12.57" height="10.83" fill="#fa4b00"/>
<rect x="470.17" y="227.89" width="12.57" height="10.83" fill="#ff5f00"/>
<rect x="482.44" y="227.89" width="12.57" height="10.83" fill="#ff6400"/>
<rect x="494.70" y="227.89" width="12.57" height="10.83" fill="#ff7800"/>
<rect x="506.97" y="227.89" width="12.57" height="10.83" fill="#ff8200"/>
<rect x="519.24" y="227.89" width="12.57" height="10.83" fill="#ff8c00"/>
<rect x="531.50" y="227.89" width="12.57" height="10.83" fill="#ffa000"/>
<rect x="543.77" y="227.89" width="12.57" height="10.83" fill="#ffa500"/>
<rect x="556.04" y="227.89" width="37.10" height="10.83" fill="#ffb900"/>
<rect x="592.84" y="227.89" width="37.10" height="10.83" fill="#ffd500"/>
<rect x="629.64" y="227.89" width="12.57" height="10.83" fill="#ffff00"/>
<rect x="641.90" y="227.89" width="12.57" height="10.83" fill="#ffd500"/>
<rect x="654.17" y="227.89" width="24.83" height="10.83" fill="#ffe800"/>
<rect x="678.70" y="227.89" width="12.57" height="10.83" fill="#ffff00"/>
<rect x="690.97" y="227.89" width="37.10" height="10.83" fill="#ffe800"/>
<rect x="727.77" y="227.89" width="12.57" height="10.83" fill="#ffd500"/>
<rect x="740.04" y="227.89" width="12.57" height="10.83" fill="#ffe800"/>
<rect x="752.31" y="227.89" width="24.83" height="10.83" fill="#ffff00"/>
<rect x="102.17" y="238.42" width="12.57" height="10.83" fill="#ffd500"/>
<rect x="114.44" y="238.42" width="12.57" height="10.83" fill="#ffe800"/>
<rect x="126.70" y="238.42" width="12.57" height="10.83" fill="#ffd500"/>
<rect x="138.97" y="238.42" width="24.83" height="10.83" fill="#ffc300"/>
<rect x="163.50" y="238.42" width="24.83" height="10.83" fill="#ffd500"/>
<rect x="188.04" y="238.42" width="12.57" height="10.83" fill="#ffc300"/>
<rect x="200.30" y="238.42" width="12.57" height="10.83" fill="#ffd500"/>
<rect x="212.57" y="238.42" width="61.63" height="10.83" fill="#ffc300"/>
<rect x="273.90" y="238.42" width="12.57" height="10.83" fill="#ffac00"/>
<rect x="286.17" y="238.42" width="12.57" height="10.83" fill="#ffc300"/>
<rect x="298.44" y="238.42" width="12.57" height="10.83" fill="#ffac00"/>
<rect x="310.70" y="238.42" width="12.57" height="10.83" fill="#ffc300"/>
<rect x="322.97" y="238.42" width="24.83" height="10.83" fill="#ffac00"/>
<rect x="347.50" y="238.42" width="12.57" height="10.83" fill="#ff8200"/>
<rect x="359.77" y="238.42" width="24.83" height="10.83" fill="#ff6400"/>
<rect x="384.30" y="238.42" width="24.83" height="10.83" fill="#fa4600"/>
<rect x="408.84" y="238.42" width="12.57" height="10.83" fill="#f01e00"/>
<rect x="421.10" y="238.42" width="12.57" height="10.83" fill="#d70800"/>
<rect x="433.37" y="238.42" width="12.57" height="10.83" fill="#eb1900"/>
<rect x="445.64" y="238.42" width="12.57" height="10.83" fill="#f01e00"/>
<rect x="457.90" y="238.42" width="12.57" height="10.83" fill="#f53200"/>
<rect x="470.17" y="238.42" width="12.57" height="10.83" fill="#ff3c00"/>
<rect x="482.44" y="238.42" width="12.57" height="10.83" fill="#ff5a00"/>
<rect x="494.70" y="238.42" width="12.57" height="10.83" fill="#ff6e00"/>
<rect x="506.97" y="238.42" width="12.57" height="10.83" fill="#ff7d00"/>
<rect x="519.24" y="238.42" width="12.57" height="10.83" fill="#ff8c00"/>
<rect x="531.50" y="238.42" width="12.57" height="10.83" fill="#ffa000"/>
<rect x="543.77" y="238.42" width="12.57" height="10.83" fill="#ffaa00"/>
<rect x="556.04" y="238.42" width="12.57" height="10.83" fill="#ffc300"/>
<rect x="568.30" y="238.42" width="12.57" height="10.83" fill="#ffb900"/>
<rect x="580.57" y="238.42" width="12.57" height="10.83" fill="#ffbe00"/>
<rect x="592.84" y="238.42" width="24.83" height="10.83" fill="#ffd500"/>
<rect x="617.37" y="238.42" width="12.57" height="10.83" fill="#ffe800"/>
<rect x="629.64" y="238.42" width="24.83" height="10.83" fill="#ffd500"/>
<rect x="654.17" y="238.42" width="12.57" height="10.83" fill="#ffe800"/>
<rect x="666.44" y="238.42" width="12.57" height="10.83" fill="#ffff00"/>
<rect x="678.70" y="238.42" width="12.57" height="10.83" fill="#ffe800"/>
<rect x="690.97" y="238.42" width="12.57" height="10.83" fill="#ffd500"/>
<rect x="703.24" y="238.42" width="49.37" height="10.83" fill="#ffe800"/>
<rect x="752.31" y="238.42" width="24.83" height="10.83" fill="#ffff00"/>
<rect x="102.17" y="248.95" width="12.57" height="10.83" fill="#ffd500"/>
<rect x="114.44" y="248.95" width="12.57" height="10.83" fill="#ffc300"/>
<rect x="126.70" y="248.95" width="24.83" height="10.83" fill="#ffd500"/>
<rect x="151.24" y="248.95" width="12.57" height="10.83" fill="#ffc300"/>
<rect x="163.50" y="248.95" width="12.57" height="10.83" fill="#ffd500"/>
<rect x="175.77" y="248.95" width="12.57" height="10.83" fill="#ffc300"/>
<rect x="188.04" y="248.95" width="12.57" height="10.83" fill="#ffd500"/>
<rect x="200.30" y="248.95" width="12.57" height="10.83" fill="#ffac00"/>
<rect x="212.57" y="248.95" width="24.83" height="10.83" fill="#ffc300"/>
<rect x="237.10" y="248.95" width="12.57" height="10.83" fill="#ffac00"/>
<rect x="249.37" y="248.95" width="24.83" height="10.83" fill="#ffc300"/>
<rect x="273.90" y="248.95" width="12.57" height="10.83" fill="#ffac00"/>
<rect x="286.17" y="248.95" width="12.57" height="10.83" fill="#ffc300"/>
<rect x="298.44" y="248.95" width="37.10" height="10.83" fill="#ffac00"/>
<rect x="335.24" y="248.95" width="12.57" height="10.83" fill="#ff8c00"/>
<rect x="347.50" y="248.95" width="12.57" height="10.83" fill="#ff6e00"/>
<rect x="359.77" y="248.95" width="12.57" height="10.83" fill="#ff5a00"/>
<rect x="372.04" y="248.95" width="12.57" height="10.83" fill="#fa4600"/>
<rect x="384.30" y="248.95" width="12.57" height="10.83" fill="#e11400"/>
<rect x="396.57" y="248.95" width="12.57" height="10.83" fill="#d70800"/>
<rect x="408.84" y="248.95" width="12.57" height="10.83" fill="#c80000"/>
<rect x="421.10" y="248.95" width="12.57" height="10.83" fill="#aa0000"/>
<rect x="433.37" y="248.95" width="12.57" height="10.83" fill="#b90000"/>
<rect x="445.64" y="248.95" width="12.57" height="10.83" fill="#c80000"/>
<rect x="457.90" y="248.95" width="12.57" height="10.83" fill="#dc0f00"/>
<rect x="470.17" y="248.95" width="12.57" height="10.83" fill="#ff1e00"/>
<rect x="482.44" y="248.95" width="12.57" height="10.83" fill="#ff4100"/>
<rect x="494.70" y="248.95" width="12.57" height="10.83" fill="#ff5f00"/>
<rect x="506.97" y="248.95" width="12.57" height="10.83" fill="#ff7800"/>
<rect x="519.24" y="248.95" width="12.57" height="10.83" fill="#ff8c00"/>
<rect x="531.50" y="248.95" width="12.57" height="10.83" fill="#ff9b00"/>
<rect x="543.77" y="248.95" width="12.57" height="10.83" fill="#ffa500"/>
<rect x="556.04" y="248.95" width="12.57" height="10.83" fill="#ffaf00"/>
<rect x="568.30" y="248.95" width="12.57" height="10.83" fill="#ffb900"/>
<rect x="580.57" y="248.95" width="12.57" height="10.83" fill="#ffbe00"/>
<rect x="592.84" y="248.95" width="12.57" height="10.83" fill="#ffc300"/>
<rect x="605.10" y="248.95" width="12.57" height="10.83" fill="#ffe800"/>
<rect x="617.37" y="248.95" width="37.10" height="10.83" fill="#ffd500"/>
<rect x="654.17" y="248.95" width="12.57" height="10.83" fill="#ffe800"/>
<rect x="666.44" y="248.95" width="12.57" height="10.83" fill="#ffd500"/>
<rect x="678.70" y="248.95" width="12.57" height="10.83" fill="#ffe800"/>
<rect x="690.97" y="248.95" width="24.83" height="10.83" fill="#ffff00"/>
<rect x="715.50" y="248.95" width="12.57" height="10.83" fill="#ffe800"/>
<rect x="727.77" y="248.95" width="12.57" height="10.83" fill="#ffff00"/>
<rect x="740.04" y="248.95" width="12.57" height="10.83" fill="#ffe800"/>
<rect x="752.31" y="248.95" width="12.57" height="10.83" fill="#ffd500"/>
<rect x="764.57" y="248.95" width="12.57" height="10.83" fill="#ffe800"/>
<rect x="102.17" y="259.48" width="37.10" height="10.83" fill="#ffd500"/>
<rect x="138.97" y="259.48" width="37.10" height="10.83" fill="#ffc300"/>
<rect x="175.77" y="259.48" width="12.57" height="10.83" fill="#ffd500"/>
<rect x="188.04" y="259.48" width="12.57" height="10.83" fill="#ffac00"/>
<rect x="200.30" y="259.48" width="12.57" height="10.83" fill="#ffc300"/>
<rect x="212.57" y="259.48" width="12.57" height="10.83" fill="#ffac00"/>
<rect x="224.84" y="259.48" width="24.83" height="10.83" fill="#ffc300"/>
<rect x="249.37" y="259.48" width="12.57" height="10.83" fill="#ffac00"/>
<rect x="261.64" y="259.48" width="24.83" height="10.83" fill="#ffc300"/>
<rect x="286.17" y="259.48" width="12.57" height="10.83" fill="#ffac00"/>
<rect x="298.44" y="259.48" width="49.37" height="10.83" fill="#ff8c00"/>
<rect x="347.50" y="259.48" width="12.57" height="10.83" fill="#ff6400"/>
<rect x="359.77" y="259.48" width="12.57" height="10.83" fill="#ff5500"/>
<rect x="372.04" y="259.48" width="12.57" height="10.83" fill="#fa3c00"/>
<rect x="384.30" y="259.48" width="12.57" height="10.83" fill="#e61900"/>
<rect x="396.57" y="259.48" width="12.57" height="10.83" fill="#be0000"/>
<rect x="408.84" y="259.48" width="12.57" height="10.83" fill="#8c0000"/>
<rect x="421.10" y="259.48" width="12.57" height="10.83" fill="#500000"/>
<rect x="433.37" y="259.48" width="12.57" height="10.83" fill="#3c0000"/>
<rect x="445.64" y="259.48" width="12.57" height="10.83" fill="#8c0000"/>
<rect x="457.90" y="259.48" width="12.57" height="10.83" fill="#c80000"/>
<rect x="470.17" y="259.48" width="12.57" height="10.83" fill="#ff1900"/>
<rect x="482.44" y="259.48" width="12.57" height="10.83" fill="#ff3c00"/>
<rect x="494.70" y="259.48" width="12.57" height="10.83" fill="#ff5a00"/>
<rect x="506.97" y="259.48" width="12.57" height="10.83" fill="#ff7300"/>
<rect x="519.24" y="259.48" width="12.57" height="10.83" fill="#ff8200"/>
<rect x="531.50" y="259.48" width="12.57" height="10.83" fill="#ff9600"/>
<rect x="543.77" y="259.48" width="12.57" height="10.83" fill="#ff9b00"/>
<rect x="556.04" y="259.48" width="12.57" height="10.83" fill="#ffaa00"/>
<rect x="568.30" y="259.48" width="12.57" height="10.83" fill="#ffb400"/>
<rect x="580.57" y="259.48" width="12.57" height="10.83" fill="#ffb900"/>
<rect x="592.84" y="259.48" width="24.83" height="10.83" fill="#ffd500"/>
<rect x="617.37" y="259.48" width="12.57" height="10.83" fill="#ffc300"/>
<rect x="629.64" y="259.48" width="24.83" height="10.83" fill="#ffd500"/>
<rect x="654.17" y="259.48" width="12.57" height="10.83" fill="#ffe800"/>
<rect x="666.44" y="259.48" width="24.83" height="10.83" fill="#ffd500"/>
<rect x="690.97" y="259.48" width="37.10" height="10.83" fill="#ffe800"/>
<rect x="740.04" y="259.48" width="12.57" height="10.83" fill="#ffff00"/>
<rect x="752.31" y="259.48" width="24.83" height="10.83" fill="#ffe800"/>
<rect x="102.17" y="270.01" width="12.57" height="10.83" fill="#ffc300"/>
<rect x="114.44" y="270.01" width="49.37" height="10.83" fill="#ffd500"/>
<rect x="163.50" y="270.01" width="12.57" height="10.83" fill="#ffc300"/>
<rect x="175.77" y="270.01" width="12.57" height="10.83" fill="#ffac00"/>
<rect x="188.04" y="270.01" width="12.57" height="10.83" fill="#ffc300"/>
<rect x="200.30" y="270.01" width="12.57" height="10.83" fill="#ffac00"/>
<rect x="212.57" y="270.01" width="24.83" height="10.83" fill="#ffc300"/>
<rect x="237.10" y="270.01" width="12.57" height="10.83" fill="#ffac00"/>
<rect x="249.37" y="270.01" width="24.83" height="10.83" fill="#ffc300"/>
<rect x="273.90" y="270.01" width="49.37" height="10.83" fill="#ffac00"/>
<rect x="322.97" y="270.01" width="12.57" height="10.83" fill="#ff8c00"/>
<rect x="335.24" y="270.01" width="12.57" height="10.83" fill="#ff6900"/>
<rect x="347.50" y="270.01" width="12.57" height="10.83" fill="#ff6400"/>
<rect x="359.77" y="270.01" width="12.57" height="10.83" fill="#ff5000"/>
<rect x="372.04" y="270.01" width="12.57" height="10.83" fill="#eb1e00"/>
<rect x="384.30" y="270.01" width="12.57" height="10.83" fill="#e11400"/>
<rect x="396.57" y="270.01" width="12.57" height="10.83" fill="#be0000"/>
<rect x="408.84" y="270.01" width="12.57" height="10.83" fill="#8c0000"/>
<rect x="421.10" y="270.01" width="12.57" height="10.83" fill="#500000"/>
<rect x="433.37" y="270.01" width="12.57" height="10.83" fill="#3c0000"/>
<rect x="445.64" y="270.01" width="12.57" height="10.83" fill="#8c0000"/>
<rect x="457.90" y="270.01" width="12.57" height="10.83" fill="#c80000"/>
<rect x="470.17" y="270.01" width="12.57" height="10.83" fill="#ff1900"/>
<rect x="482.44" y="270.01" width="12.57" height="10.83" fill="#ff3c00"/>
<rect x="494.70" y="270.01" width="12.57" height="10.83" fill="#ff4600"/>
<rect x="506.97" y="270.01" width="12.57" height="10.83" fill="#ff6400"/>
<rect x="519.24" y="270.01" width="12.57" height="10.83" fill="#ff6900"/>
<rect x="531.50" y="270.01" width="12.57" height="10.83" fill="#ff8c00"/>
<rect x="543.77" y="270.01" width="12.57" height="10.83" fill="#ffa000"/>
<rect x="556.04" y="270.01" width="12.57" height="10.83" fill="#ffaa00"/>
<rect x="568.30" y="270.01" width="24.83" height="10.83" fill="#ffaf00"/>
<rect x="592.84" y="270.01" width="12.57" height="10.83" fill="#ffc300"/>
<rect x="605.10" y="270.01" width="37.10" height="10.83" fill="#ffd500"/>
<rect x="641.90" y="270.01" width="12.57" height="10.83" fill="#ffe800"/>
<rect x="654.17" y="270.01" width="12.57" height="10.83" fill="#ffd500"/>
<rect x="666.44" y="270.01" width="12.57" height="10.83" fill="#ffe800"/>
<rect x="678.70" y="270.01" width="61.63" height="10.83" fill="#ffff00"/>
<rect x="740.04" y="270.01" width="12.57" height="10.83" fill="#ffd500"/>
<rect x="752.31" y="270.01" width="24.83" height="10.83" fill="#ffe800"/>
<rect x="102.17" y="280.53" width="12.57" height="10.83" fill="#ffd500"/>
<rect x="114.44" y="280.53" width="12.57" height="10.83" fill="#ffc300"/>
<rect x="126.70" y="280.53" width="12.57" height="10.83" fill="#ffd500"/>
<rect x="138.97" y="280.53" width="12.57" height="10.83" fill="#ffc300"/>
<rect x="151.24" y="280.53" width="12.57" height="10.83" fill="#ffe800"/>
<rect x="163.50" y="280.53" width="12.57" height="10.83" fill="#ffd500"/>
<rect x="175.77" y="280.53" width="12.57" height="10.83" fill="#ffc300"/>
<rect x="188.04" y="280.53" width="12.57" height="10.83" fill="#ffac00"/>
<rect x="200.30" y="280.53" width="61.63" height="10.83" fill="#ffc300"/>
<rect x="261.64" y="280.53" width="24.83" height="10.83" fill="#ffac00"/>
<rect x="286.17" y="280.53" width="12.57" height="10.83" fill="#ff8c00"/>
<rect x="298.44" y="280.53" width="12.57" height="10.83" fill="#ffac00"/>
<rect x="310.70" y="280.53" width="24.83" height="10.83" fill="#ff8c00"/>
<rect x="335.24" y="280.53" width="12.57" height="10.83" fill="#ff6900"/>
<rect x="347.50" y="280.53" width="12.57" height="10.83" fill="#ff6400"/>
<rect x="359.77" y="280.53" width="12.57" height="10.83" fill="#fa4600"/>
<rect x="372.04" y="280.53" width="12.57" height="10.83" fill="#f02800"/>
<rect x="384.30" y="280.53" width="12.57" height="10.83" fill="#e61900"/>
<rect x="396.57" y="280.53" width="12.57" height="10.83" fill="#d70800"/>
<rect x="408.84" y="280.53" width="12.57" height="10.83" fill="#c80000"/>
<rect x="421.10" y="280.53" width="12.57" height="10.83" fill="#b40000"/>
<rect x="433.37" y="280.53" width="12.57" height="10.83" fill="#b90000"/>
<rect x="445.64" y="280.53" width="12.57" height="10.83" fill="#c80000"/>
<rect x="457.90" y="280.53" width="12.57" height="10.83" fill="#e11400"/>
<rect x="470.17" y="280.53" width="12.57" height="10.83" fill="#ff1e00"/>
<rect x="482.44" y="280.53" width="12.57" height="10.83" fill="#ff3c00"/>
<rect x="494.70" y="280.53" width="12.57" height="10.83" fill="#ff5500"/>
<rect x="506.97" y="280.53" width="12.57" height="10.83" fill="#ff5f00"/>
<rect x="519.24" y="280.53" width="12.57" height="10.83" fill="#ff6400"/>
<rect x="531.50" y="280.53" width="12.57" height="10.83" fill="#ff7800"/>
<rect x="543.77" y="280.53" width="12.57" height="10.83" fill="#ff9600"/>
<rect x="556.04" y="280.53" width="12.57" height="10.83" fill="#ffa500"/>
<rect x="568.30" y="280.53" width="12.57" height="10.83" fill="#ffaa00"/>
<rect x="580.57" y="280.53" width="12.57" height="10.83" fill="#ffa500"/>
<rect x="592.84" y="280.53" width="24.83" height="10.83" fill="#ffc300"/>
<rect x="617.37" y="280.53" width="24.83" height="10.83" fill="#ffd500"/>
<rect x="641.90" y="280.53" width="24.83" height="10.83" fill="#ffe800"/>
<rect x="666.44" y="280.53" width="12.57" height="10.83" fill="#ffff00"/>
<rect x="678.70" y="280.53" width="12.57" height="10.83" fill="#ffd500"/>
<rect x="690.97" y="280.53" width="37.10" height="10.83" fill="#ffff00"/>
<rect x="740.04" y="280.53" width="37.10" height="10.83" fill="#ffff00"/>
<rect x="102.17" y="291.06" width="12.57" height="10.83" fill="#ffc300"/>
<rect x="114.44" y="291.06" width="86.17" height="10.83" fill="#ffd500"/>
<rect x="200.30" y="291.06" width="61.63" height="10.83" fill="#ffc300"/>
<rect x="261.64" y="291.06" width="12.57" height="10.83" fill="#ffd500"/>
<rect x="273.90" y="291.06" width="24.83" height="10.83" fill="#ffc300"/>
<rect x="298.44" y="291.06" width="37.10" height="10.83" fill="#ffac00"/>
<rect x="335.24" y="291.06" width="12.57" height="10.83" fill="#ff8c00"/>
<rect x="347.50" y="291.06" width="12.57" height="10.83" fill="#ff6e00"/>
<rect x="359.77" y="291.06" width="12.57" height="10.83" fill="#ff5a00"/>
<rect x="372.04" y="291.06" width="12.57" height="10.83" fill="#fa4600"/>
<rect x="384.30" y="291.06" width="12.57" height="10.83" fill="#f53200"/>
<rect x="396.57" y="291.06" width="12.57" height="10.83" fill="#eb1e00"/>
<rect x="408.84" y="291.06" width="12.57" height="10.83" fill="#e61900"/>
<rect x="421.10" y="291.06" width="24.83" height="10.83" fill="#e11400"/>
<rect x="445.64" y="291.06" width="12.57" height="10.83" fill="#eb1e00"/>
<rect x="457.90" y="291.06" width="12.57" height="10.83" fill="#f02800"/>
<rect x="470.17" y="291.06" width="12.57" height="10.83" fill="#ff3c00"/>
<rect x="482.44" y="291.06" width="12.57" height="10.83" fill="#ff4600"/>
<rect x="494.70" y="291.06" width="12.57" height="10.83" fill="#ff6400"/>
<rect x="506.97" y="291.06" width="12.57" height="10.83" fill="#ff7800"/>
<rect x="519.24" y="291.06" width="12.57" height="10.83" fill="#ff7d00"/>
<rect x="531.50" y="291.06" width="12.57" height="10.83" fill="#ff8c00"/>
<rect x="543.77" y="291.06" width="12.57" height="10.83" fill="#ff9600"/>
<rect x="556.04" y="291.06" width="12.57" height="10.83" fill="#ffa500"/>
<rect x="568.30" y="291.06" width="12.57" height="10.83" fill="#ffaa00"/>
<rect x="580.57" y="291.06" width="12.57" height="10.83" fill="#ffb400"/>
<rect x="592.84" y="291.06" width="24.83" height="10.83" fill="#ffc300"/>
<rect x="617.37" y="291.06" width="24.83" height="10.83" fill="#ffd500"/>
<rect x="641.90" y="291.06" width="24.83" height="10.83" fill="#ffe800"/>
<rect x="666.44" y="291.06" width="12.57" height="10.83" fill="#ffff00"/>
<rect x="678.70" y="291.06" width="12.57" height="10.83" fill="#ffe800"/>
<rect x="690.97" y="291.06" width="49.37" height="10.83" fill="#ffff00"/>
<rect x="752.31" y="291.06" width="24.83" height="10.83" fill="#ffff00"/>
<rect x="102.17" y="301.59" width="12.57" height="10.83" fill="#ffd500"/>
<rect x="114.44" y="301.59" width="12.57" height="10.83" fill="#ffe800"/>
<rect x="126.70" y="301.59" width="12.57" height="10.83" fill="#ffd500"/>
<rect x="138.97" y="301.59" width="12.57" height="10.83" fill="#ffc300"/>
<rect x="151.24" y="301.59" width="12.57" height="10.83" fill="#ffd500"/>
<rect x="163.50" y="301.59" width="37.10" height="10.83" fill="#ffc300"/>
<rect x="200.30" y="301.59" width="12.57" height="10.83" fill="#ffd500"/>
<rect x="212.57" y="301.59" width="12.57" height="10.83" fill="#ffc300"/>
<rect x="224.84" y="301.59" width="12.57" height="10.83" fill="#ffd500"/>
<rect x="237.10" y="301.59" width="12.57" height="10.83" fill="#ffc300"/>
<rect x="249.37" y="301.59" width="24.83" height="10.83" fill="#ffac00"/>
<rect x="273.90" y="301.59" width="12.57" height="10.83" fill="#ffc300"/>
<rect x="286.17" y="301.59" width="49.37" height="10.83" fill="#ffac00"/>
<rect x="335.24" y="301.59" width="12.57" height="10.83" fill="#ff8c00"/>
<rect x="347.50" y="301.59" width="12.57" height="10.83" fill="#ff7800"/>
<rect x="359.77" y="301.59" width="12.57" height="10.83" fill="#ff6400"/>
<rect x="372.04" y="301.59" width="12.57" height="10.83" fill="#ff5a00"/>
<rect x="384.30" y="301.59" width="12.57" height="10.83" fill="#fa4b00"/>
<rect x="396.57" y="301.59" width="12.57" height="10.83" fill="#f53700"/>
<rect x="408.84" y="301.59" width="37.10" height="10.83" fill="#f53200"/>
<rect x="445.64" y="301.59" width="12.57" height="10.83" fill="#f53700"/>
<rect x="457.90" y="301.59" width="12.57" height="10.83" fill="#fa4100"/>
<rect x="470.17" y="301.59" width="12.57" height="10.83" fill="#ff5500"/>
<rect x="482.44" y="301.59" width="12.57" height="10.83" fill="#ff6400"/>
<rect x="494.70" y="301.59" width="12.57" height="10.83" fill="#ff7d00"/>
<rect x="506.97" y="301.59" width="12.57" height="10.83" fill="#ff8200"/>
<rect x="519.24" y="301.59" width="12.57" height="10.83" fill="#ff7800"/>
<rect x="531.50" y="301.59" width="12.57" height="10.83" fill="#ff8c00"/>
<rect x="543.77" y="301.59" width="12.57" height="10.83" fill="#ff9600"/>
<rect x="556.04" y="301.59" width="12.57" height="10.83" fill="#ffa500"/>
<rect x="568.30" y="301.59" width="12.57" height="10.83" fill="#ffb900"/>
<rect x="580.57" y="301.59" width="12.57" height="10.83" fill="#ffbe00"/>
<rect x="592.84" y="301.59" width="24.83" height="10.83" fill="#ffe800"/>
<rect x="617.37" y="301.59" width="12.57" height="10.83" fill="#ffff00"/>
<rect x="629.64" y="301.59" width="24.83" height="10.83" fill="#ffe800"/>
<rect x="654.17" y="301.59" width="12.57" height="10.83" fill="#ffd500"/>
<rect x="666.44" y="301.59" width="24.83" height="10.83" fill="#ffff00"/>
<rect x="690.97" y="301.59" width="12.57" height="10.83" fill="#ffe800"/>
<rect x="715.50" y="301.59" width="24.83" height="10.83" fill="#ffff00"/>
<rect x="102.17" y="312.12" width="49.37" height="10.83" fill="#ffd500"/>
<rect x="151.24" y="312.12" width="12.57" height="10.83" fill="#ffc300"/>
<rect x="163.50" y="312.12" width="12.57" height="10.83" fill="#ffe800"/>
<rect x="175.77" y="312.12" width="37.10" height="10.83" fill="#ffc300"/>
<rect x="212.57" y="312.12" width="12.57" height="10.83" fill="#ffac00"/>
<rect x="224.84" y="312.12" width="12.57" height="10.83" fill="#ffd500"/>
<rect x="237.10" y="312.12" width="37.10" height="10.83" fill="#ffc300"/>
<rect x="273.90" y="312.12" width="73.90" height="10.83" fill="#ffac00"/>
<rect x="347.50" y="312.12" width="12.57" height="10.83" fill="#ff7d00"/>
<rect x="359.77" y="312.12" width="12.57" height="10.83" fill="#ff7300"/>
<rect x="372.04" y="312.12" width="12.57" height="10.83" fill="#ff6900"/>
<rect x="384.30" y="312.12" width="12.57" height="10.83" fill="#ff6400"/>
<rect x="396.57" y="312.12" width="12.57" height="10.83" fill="#ff5a00"/>
<rect x="408.84" y="312.12" width="49.37" height="10.83" fill="#ff5500"/>
<rect x="457.90" y="312.12" width="12.57" height="10.83" fill="#ff5a00"/>
<rect x="470.17" y="312.12" width="12.57" height="10.83" fill="#ff6400"/>
<rect x="482.44" y="312.12" width="12.57" height="10.83" fill="#ff8200"/>
<rect x="494.70" y="312.12" width="12.57" height="10.83" fill="#ff8c00"/>
<rect x="506.97" y="312.12" width="12.57" height="10.83" fill="#ff8200"/>
<rect x="519.24" y="312.12" width="12.57" height="10.83" fill="#ff9100"/>
<rect x="531.50" y="312.12" width="12.57" height="10.83" fill="#ff9600"/>
<rect x="543.77" y="312.12" width="12.57" height="10.83" fill="#ffa000"/>
<rect x="556.04" y="312.12" width="12.57" height="10.83" fill="#ffaa00"/>
<rect x="568.30" y="312.12" width="12.57" height="10.83" fill="#ffc300"/>
<rect x="580.57" y="312.12" width="12.57" height="10.83" fill="#ffd700"/>
<rect x="592.84" y="312.12" width="12.57" height="10.83" fill="#ffe800"/>
<rect x="605.10" y="312.12" width="12.57" height="10.83" fill="#ffd500"/>
<rect x="617.37" y="312.12" width="12.57" height="10.83" fill="#ffff00"/>
<rect x="629.64" y="312.12" width="24.83" height="10.83" fill="#ffe800"/>
<rect x="654.17" y="312.12" width="12.57" height="10.83" fill="#ffd500"/>
<rect x="666.44" y="312.12" width="24.83" height="10.83" fill="#ffe800"/>
<rect x="690.97" y="312.12" width="24.83" height="10.83" fill="#ffff00"/>
<rect x="727.77" y="312.12" width="49.37" height="10.83" fill="#ffff00"/>
<rect x="102.17" y="322.65" width="49.37" height="10.83" fill="#ffd500"/>
<rect x="151.24" y="322.65" width="12.57" height="10.83" fill="#ffe800"/>
<rect x="163.50" y="322.65" width="12.57" height="10.83" fill="#ffff00"/>
<rect x="175.77" y="322.65" width="37.10" height="10.83" fill="#ffc300"/>
<rect x="212.57" y="322.65" width="12.57" height="10.83" fill="#ffd500"/>
<rect x="224.84" y="322.65" width="49.37" height="10.83" fill="#ffc300"/>
<rect x="273.90" y="322.65" width="24.83" height="10.83" fill="#ffac00"/>
<rect x="298.44" y="322.65" width="24.83" height="10.83" fill="#ff8c00"/>
<rect x="322.97" y="322.65" width="24.83" height="10.83" fill="#ffac00"/>
<rect x="347.50" y="322.65" width="12.57" height="10.83" fill="#ff8c00"/>
<rect x="359.77" y="322.65" width="37.10" height="10.83" fill="#ff7d00"/>
<rect x="396.57" y="322.65" width="12.57" height="10.83" fill="#ff7800"/>
<rect x="408.84" y="322.65" width="12.57" height="10.83" fill="#ff6400"/>
<rect x="421.10" y="322.65" width="12.57" height="10.83" fill="#ff5f00"/>
<rect x="433.37" y="322.65" width="12.57" height="10.83" fill="#ff6e00"/>
<rect x="445.64" y="322.65" width="37.10" height="10.83" fill="#ff7d00"/>
<rect x="482.44" y="322.65" width="24.83" height="10.83" fill="#ff9600"/>
<rect x="506.97" y="322.65" width="12.57" height="10.83" fill="#ff9b00"/>
<rect x="519.24" y="322.65" width="12.57" height="10.83" fill="#ffa500"/>
<rect x="531.50" y="322.65" width="12.57" height="10.83" fill="#ffaf00"/>
<rect x="543.77" y="322.65" width="12.57" height="10.83" fill="#ffb400"/>
<rect x="556.04" y="322.65" width="12.57" height="10.83" fill="#ffc800"/>
<rect x="568.30" y="322.65" width="12.57" height="10.83" fill="#ffaf00"/>
<rect x="580.57" y="322.65" width="37.10" height="10.83" fill="#ffc300"/>
<rect x="617.37" y="322.65" width="12.57" height="10.83" fill="#ffe800"/>
<rect x="641.90" y="322.65" width="49.37" height="10.83" fill="#ffe800"/>
<rect x="690.97" y="322.65" width="12.57" height="10.83" fill="#ffff00"/>
<rect x="703.24" y="322.65" width="12.57" height="10.83" fill="#ffe800"/>
<rect x="715.50" y="322.65" width="12.57" height="10.83" fill="#ffff00"/>
<rect x="740.04" y="322.65" width="12.57" height="10.83" fill="#ffff00"/>
<rect x="114.44" y="333.17" width="37.10" height="10.83" fill="#ffe800"/>
<rect x="151.24" y="333.17" width="12.57" height="10.83" fill="#ffff00"/>
<rect x="163.50" y="333.17" width="37.10" height="10.83" fill="#ffe800"/>
<rect x="200.30" y="333.17" width="12.57" height="10.83" fill="#ffff00"/>
<rect x="212.57" y="333.17" width="12.57" height="10.83" fill="#ffe800"/>
<rect x="224.84" y="333.17" width="24.83" height="10.83" fill="#ffd500"/>
<rect x="249.37" y="333.17" width="12.57" height="10.83" fill="#ffc300"/>
<rect x="261.64" y="333.17" width="12.57" height="10.83" fill="#ffd500"/>
<rect x="273.90" y="333.17" width="37.10" height="10.83" fill="#ffc300"/>
<rect x="310.70" y="333.17" width="37.10" height="10.83" fill="#ffac00"/>
<rect x="347.50" y="333.17" width="12.57" height="10.83" fill="#ff9600"/>
<rect x="359.77" y="333.17" width="12.57" height="10.83" fill="#ff9100"/>
<rect x="372.04" y="333.17" width="37.10" height="10.83" fill="#ff8c00"/>
<rect x="408.84" y="333.17" width="12.57" height="10.83" fill="#ff7d00"/>
<rect x="421.10" y="333.17" width="12.57" height="10.83" fill="#ff9100"/>
<rect x="433.37" y="333.17" width="12.57" height="10.83" fill="#ff7d00"/>
<rect x="445.64" y="333.17" width="12.57" height="10.83" fill="#ff9100"/>
<rect x="457.90" y="333.17" width="37.10" height="10.83" fill="#ff9600"/>
<rect x="494.70" y="333.17" width="12.57" height="10.83" fill="#ffa000"/>
<rect x="506.97" y="333.17" width="12.57" height="10.83" fill="#ff9600"/>
<rect x="519.24" y="333.17" width="12.57" height="10.83" fill="#ffaa00"/>
<rect x="531.50" y="333.17" width="12.57" height="10.83" fill="#ffc300"/>
<rect x="543.77" y="333.17" width="12.57" height="10.83" fill="#ffbe00"/>
<rect x="556.04" y="333.17" width="61.63" height="10.83" fill="#ffc300"/>
<rect x="617.37" y="333.17" width="12.57" height="10.83" fill="#ffe800"/>
<rect x="629.64" y="333.17" width="37.10" height="10.83" fill="#ffd500"/>
<rect x="666.44" y="333.17" width="12.57" height="10.83" fill="#ffe800"/>
<rect x="690.97" y="333.17" width="24.83" height="10.83" fill="#ffe800"/>
<rect x="715.50" y="333.17" width="12.57" height="10.83" fill="#ffd500"/>
<rect x="740.04" y="333.17" width="12.57" height="10.83" fill="#ffff00"/>
<rect x="138.97" y="343.70" width="12.57" height="10.83" fill="#ffff00"/>
<rect x="151.24" y="343.70" width="12.57" height="10.83" fill="#ffe800"/>
<rect x="163.50" y="343.70" width="12.57" height="10.83" fill="#ffff00"/>
<rect x="175.77" y="343.70" width="37.10" height="10.83" fill="#ffe800"/>
<rect x="212.57" y="343.70" width="12.57" height="10.83" fill="#ffff00"/>
<rect x="224.84" y="343.70" width="24.83" height="10.83" fill="#ffe800"/>
<rect x="249.37" y="343.70" width="12.57" height="10.83" fill="#ffd500"/>
<rect x="261.64" y="343.70" width="12.57" height="10.83" fill="#ffe800"/>
<rect x="273.90" y="343.70" width="12.57" height="10.83" fill="#ffd500"/>
<rect x="286.17" y="343.70" width="12.57" height="10.83" fill="#ffc300"/>
<rect x="298.44" y="343.70" width="24.83" height="10.83" fill="#ffac00"/>
<rect x="322.97" y="343.70" width="12.57" height="10.83" fill="#ffc300"/>
<rect x="335.24" y="343.70" width="12.57" height="10.83" fill="#ffac00"/>
<rect x="347.50" y="343.70" width="12.57" height="10.83" fill="#ffb900"/>
<rect x="359.77" y="343.70" width="12.57" height="10.83" fill="#ffa500"/>
<rect x="372.04" y="343.70" width="24.83" height="10.83" fill="#ff9100"/>
<rect x="396.57" y="343.70" width="12.57" height="10.83" fill="#ffa000"/>
<rect x="408.84" y="343.70" width="12.57" height="10.83" fill="#ff8c00"/>
<rect x="421.10" y="343.70" width="12.57" height="10.83" fill="#ffa000"/>
<rect x="433.37" y="343.70" width="12.57" height="10.83" fill="#ff9b00"/>
<rect x="445.64" y="343.70" width="12.57" height="10.83" fill="#ff9100"/>
<rect x="457.90" y="343.70" width="12.57" height="10.83" fill="#ffa000"/>
<rect x="470.17" y="343.70" width="24.83" height="10.83" fill="#ff9600"/>
<rect x="494.70" y="343.70" width="12.57" height="10.83" fill="#ffc800"/>
<rect x="506.97" y="343.70" width="12.57" height="10.83" fill="#ffc300"/>
<rect x="519.24" y="343.70" width="12.57" height="10.83" fill="#ffbe00"/>
<rect x="531.50" y="343.70" width="12.57" height="10.83" fill="#ffd200"/>
<rect x="543.77" y="343.70" width="24.83" height="10.83" fill="#ffc300"/>
<rect x="568.30" y="343.70" width="12.57" height="10.83" fill="#ffd200"/>
<rect x="580.57" y="343.70" width="12.57" height="10.83" fill="#ffc800"/>
<rect x="592.84" y="343.70" width="12.57" height="10.83" fill="#ffc300"/>
<rect x="605.10" y="343.70" width="12.57" height="10.83" fill="#ffff00"/>
<rect x="617.37" y="343.70" width="49.37" height="10.83" fill="#ffe800"/>
<rect x="678.70" y="343.70" width="37.10" height="10.83" fill="#ffe800"/>
<rect x="715.50" y="343.70" width="12.57" height="10.83" fill="#ffff00"/>
<rect x="126.70" y="354.23" width="12.57" height="10.83" fill="#ffe800"/>
<rect x="138.97" y="354.23" width="12.57" height="10.83" fill="#ffd500"/>
<rect x="151.24" y="354.23" width="12.57" height="10.83" fill="#ffe800"/>
<rect x="163.50" y="354.23" width="24.83" height="10.83" fill="#ffff00"/>
<rect x="188.04" y="354.23" width="12.57" height="10.83" fill="#ffe800"/>
<rect x="200.30" y="354.23" width="12.57" height="10.83" fill="#ffff00"/>
<rect x="212.57" y="354.23" width="24.83" height="10.83" fill="#ffe800"/>
<rect x="237.10" y="354.23" width="12.57" height="10.83" fill="#ffc300"/>
<rect x="249.37" y="354.23" width="12.57" height="10.83" fill="#ffe800"/>
<rect x="261.64" y="354.23" width="12.57" height="10.83" fill="#ffd500"/>
<rect x="273.90" y="354.23" width="12.57" height="10.83" fill="#ffe800"/>
<rect x="286.17" y="354.23" width="49.37" height="10.83" fill="#ffc300"/>
<rect x="335.24" y="354.23" width="12.57" height="10.83" fill="#ffe800"/>
<rect x="347.50" y="354.23" width="24.83" height="10.83" fill="#ffcd00"/>
<rect x="372.04" y="354.23" width="12.57" height="10.83" fill="#ffa500"/>
<rect x="384.30" y="354.23" width="12.57" height="10.83" fill="#ffb400"/>
<rect x="396.57" y="354.23" width="12.57" height="10.83" fill="#ffa500"/>
<rect x="408.84" y="354.23" width="12.57" height="10.83" fill="#ff8c00"/>
<rect x="421.10" y="354.23" width="24.83" height="10.83" fill="#ffa000"/>
<rect x="445.64" y="354.23" width="12.57" height="10.83" fill="#ff9100"/>
<rect x="457.90" y="354.23" width="37.10" height="10.83" fill="#ffa500"/>
<rect x="494.70" y="354.23" width="12.57" height="10.83" fill="#ffaf00"/>
<rect x="506.97" y="354.23" width="24.83" height="10.83" fill="#ffbe00"/>
<rect x="531.50" y="354.23" width="37.10" height="10.83" fill="#ffc300"/>
<rect x="568.30" y="354.23" width="12.57" height="10.83" fill="#ffe600"/>
<rect x="580.57" y="354.23" width="12.57" height="10.83" fill="#ffdc00"/>
<rect x="592.84" y="354.23" width="12.57" height="10.83" fill="#ffe800"/>
<rect x="605.10" y="354.23" width="12.57" height="10.83" fill="#ffff00"/>
<rect x="617.37" y="354.23" width="12.57" height="10.83" fill="#ffe800"/>
<rect x="629.64" y="354.23" width="12.57" height="10.83" fill="#ffff00"/>
<rect x="641.90" y="354.23" width="24.83" height="10.83" fill="#ffd500"/>
<rect x="666.44" y="354.23" width="12.57" height="10.83" fill="#ffff00"/>
<rect x="678.70" y="354.23" width="24.83" height="10.83" fill="#ffe800"/>
<rect x="703.24" y="354.23" width="12.57" height="10.83" fill="#ffd500"/>
<rect x="715.50" y="354.23" width="12.57" height="10.83" fill="#ffff00"/>
<rect x="727.77" y="354.23" width="12.57" height="10.83" fill="#ffd500"/>
<rect x="126.70" y="364.76" width="12.57" height="10.83" fill="#ffe800"/>
<rect x="138.97" y="364.76" width="12.57" height="10.83" fill="#ffff00"/>
<rect x="151.24" y="364.76" width="12.57" height="10.83" fill="#ffe800"/>
<rect x="163.50" y="364.76" width="12.57" height="10.83" fill="#ffff00"/>
<rect x="188.04" y="364.76" width="12.57" height="10.83" fill="#ffe800"/>
<rect x="224.84" y="364.76" width="12.57" height="10.83" fill="#ffe800"/>
<rect x="237.10" y="364.76" width="12.57" height="10.83" fill="#ffd500"/>
<rect x="249.37" y="364.76" width="37.10" height="10.83" fill="#ffe800"/>
<rect x="286.17" y="364.76" width="12.57" height="10.83" fill="#ffd500"/>
<rect x="298.44" y="364.76" width="49.37" height="10.83" fill="#ffc300"/>
<rect x="347.50" y="364.76" width="24.83" height="10.83" fill="#ffb900"/>
<rect x="372.04" y="364.76" width="12.57" height="10.83" fill="#ffaf00"/>
<rect x="384.30" y="364.76" width="12.57" height="10.83" fill="#ffcd00"/>
<rect x="396.57" y="364.76" width="12.57" height="10.83" fill="#ffb900"/>
<rect x="408.84" y="364.76" width="12.57" height="10.83" fill="#ffcd00"/>
<rect x="421.10" y="364.76" width="12.57" height="10.83" fill="#ffb400"/>
<rect x="433.37" y="364.76" width="12.57" height="10.83" fill="#ffa500"/>
<rect x="445.64" y="364.76" width="12.57" height="10.83" fill="#ffaa00"/>
<rect x="457.90" y="364.76" width="12.57" height="10.83" fill="#ffb400"/>
<rect x="470.17" y="364.76" width="24.83" height="10.83" fill="#ffa500"/>
<rect x="494.70" y="364.76" width="24.83" height="10.83" fill="#ffb900"/>
<rect x="519.24" y="364.76" width="12.57" height="10.83" fill="#ffbe00"/>
<rect x="531.50" y="364.76" width="12.57" height="10.83" fill="#ffc800"/>
<rect x="543.77" y="364.76" width="12.57" height="10.83" fill="#ffc300"/>
<rect x="556.04" y="364.76" width="12.57" height="10.83" fill="#ffd700"/>
<rect x="568.30" y="364.76" width="12.57" height="10.83" fill="#ffc300"/>
<rect x="580.57" y="364.76" width="12.57" height="10.83" fill="#ffc800"/>
<rect x="592.84" y="364.76" width="12.57" height="10.83" fill="#ffe800"/>
<rect x="605.10" y="364.76" width="12.57" height="10.83" fill="#ffff00"/>
<rect x="629.64" y="364.76" width="12.57" height="10.83" fill="#ffff00"/>
<rect x="641.90" y="364.76" width="12.57" height="10.83" fill="#ffe800"/>
<rect x="654.17" y="364.76" width="12.57" height="10.83" fill="#ffd500"/>
<rect x="678.70" y="364.76" width="24.83" height="10.83" fill="#ffe800"/>
<rect x="715.50" y="364.76" width="12.57" height="10.83" fill="#ffe800"/>
<rect x="727.77" y="364.76" width="12.57" height="10.83" fill="#ffff00"/>
<rect x="138.97" y="375.29" width="37.10" height="10.83" fill="#ffff00"/>
<rect x="175.77" y="375.29" width="12.57" height="10.83" fill="#ffd500"/>
<rect x="200.30" y="375.29" width="12.57" height="10.83" fill="#ffe800"/>
<rect x="212.57" y="375.29" width="12.57" height="10.83" fill="#ffff00"/>
<rect x="224.84" y="375.29" width="37.10" height="10.83" fill="#ffe800"/>
<rect x="273.90" y="375.29" width="12.57" height="10.83" fill="#ffe800"/>
<rect x="286.17" y="375.29" width="12.57" height="10.83" fill="#ffff00"/>
<rect x="298.44" y="375.29" width="12.57" height="10.83" fill="#ffd500"/>
<rect x="310.70" y="375.29" width="37.10" height="10.83" fill="#ffc300"/>
<rect x="347.50" y="375.29" width="12.57" height="10.83" fill="#ffb900"/>
<rect x="359.77" y="375.29" width="12.57" height="10.83" fill="#ffcd00"/>
<rect x="372.04" y="375.29" width="24.83" height="10.83" fill="#ffb400"/>
<rect x="396.57" y="375.29" width="12.57" height="10.83" fill="#ffcd00"/>
<rect x="408.84" y="375.29" width="49.37" height="10.83" fill="#ffb400"/>
<rect x="457.90" y="375.29" width="12.57" height="10.83" fill="#ffb900"/>
<rect x="470.17" y="375.29" width="12.57" height="10.83" fill="#ffbe00"/>
<rect x="482.44" y="375.29" width="12.57" height="10.83" fill="#ffaa00"/>
<rect x="494.70" y="375.29" width="12.57" height="10.83" fill="#ffaf00"/>
<rect x="506.97" y="375.29" width="12.57" height="10.83" fill="#ffd700"/>
<rect x="519.24" y="375.29" width="12.57" height="10.83" fill="#ffbe00"/>
<rect x="531.50" y="375.29" width="12.57" height="10.83" fill="#ffc800"/>
<rect x="543.77" y="375.29" width="12.57" height="10.83" fill="#ffa500"/>
<rect x="556.04" y="375.29" width="12.57" height="10.83" fill="#ffd700"/>
<rect x="568.30" y="375.29" width="12.57" height="10.83" fill="#fffa00"/>
<rect x="580.57" y="375.29" width="12.57" height="10.83" fill="#ffd700"/>
<rect x="592.84" y="375.29" width="12.57" height="10.83" fill="#ffe800"/>
<rect x="605.10" y="375.29" width="12.57" height="10.83" fill="#ffff00"/>
<rect x="617.37" y="375.29" width="37.10" height="10.83" fill="#ffe800"/>
<rect x="666.44" y="375.29" width="12.57" height="10.83" fill="#ffff00"/>
<rect x="678.70" y="375.29" width="24.83" height="10.83" fill="#ffe800"/>
<rect x="703.24" y="375.29" width="12.57" height="10.83" fill="#ffff00"/>
<rect x="138.97" y="385.81" width="24.83" height="10.83" fill="#ffff00"/>
<rect x="163.50" y="385.81" width="24.83" height="10.83" fill="#ffe800"/>
<rect x="212.57" y="385.81" width="12.57" height="10.83" fill="#ffe800"/>
<rect x="237.10" y="385.81" width="12.57" height="10.83" fill="#ffe800"/>
<rect x="249.37" y="385.81" width="12.57" height="10.83" fill="#ffd500"/>
<rect x="261.64" y="385.81" width="12.57" height="10.83" fill="#ffe800"/>
<rect x="273.90" y="385.81" width="12.57" height="10.83" fill="#ffd500"/>
<rect x="286.17" y="385.81" width="12.57" height="10.83" fill="#ffff00"/>
<rect x="298.44" y="385.81" width="12.57" height="10.83" fill="#ffc300"/>
<rect x="310.70" y="385.81" width="12.57" height="10.83" fill="#ffff00"/>
<rect x="322.97" y="385.81" width="12.57" height="10.83" fill="#ffd500"/>
<rect x="335.24" y="385.81" width="12.57" height="10.83" fill="#ffe800"/>
<rect x="347.50" y="385.81" width="12.57" height="10.83" fill="#ffcd00"/>
<rect x="359.77" y="385.81" width="12.57" height="10.83" fill="#ffb900"/>
<rect x="372.04" y="385.81" width="12.57" height="10.83" fill="#ffcd00"/>
<rect x="384.30" y="385.81" width="12.57" height="10.83" fill="#ffc800"/>
<rect x="396.57" y="385.81" width="37.10" height="10.83" fill="#ffb900"/>
<rect x="433.37" y="385.81" width="37.10" height="10.83" fill="#ffcd00"/>
<rect x="470.17" y="385.81" width="12.57" height="10.83" fill="#ffc800"/>
<rect x="482.44" y="385.81" width="12.57" height="10.83" fill="#ffb900"/>
<rect x="494.70" y="385.81" width="12.57" height="10.83" fill="#ffa500"/>
<rect x="506.97" y="385.81" width="12.57" height="10.83" fill="#ffc800"/>
<rect x="519.24" y="385.81" width="12.57" height="10.83" fill="#ffbe00"/>
<rect x="531.50" y="385.81" width="12.57" height="10.83" fill="#ffaa00"/>
<rect x="543.77" y="385.81" width="12.57" height="10.83" fill="#ffc800"/>
<rect x="556.04" y="385.81" width="12.57" height="10.83" fill="#ffd700"/>
<rect x="568.30" y="385.81" width="12.57" height="10.83" fill="#ffe100"/>
<rect x="580.57" y="385.81" width="12.57" height="10.83" fill="#ffe600"/>
<rect x="592.84" y="385.81" width="12.57" height="10.83" fill="#ffe800"/>
<rect x="605.10" y="385.81" width="12.57" height="10.83" fill="#ffd500"/>
<rect x="617.37" y="385.81" width="12.57" height="10.83" fill="#ffe800"/>
<rect x="641.90" y="385.81" width="37.10" height="10.83" fill="#ffff00"/>
<rect x="690.97" y="385.81" width="12.57" height="10.83" fill="#ffe800"/>
<rect x="703.24" y="385.81" width="24.83" height="10.83" fill="#ffff00"/>
<rect x="151.24" y="396.34" width="24.83" height="10.83" fill="#ffe800"/>
<rect x="175.77" y="396.34" width="12.57" height="10.83" fill="#ffff00"/>
<rect x="188.04" y="396.34" width="24.83" height="10.83" fill="#ffe800"/>
<rect x="224.84" y="396.34" width="12.57" height="10.83" fill="#ffe800"/>
<rect x="237.10" y="396.34" width="12.57" height="10.83" fill="#ffc300"/>
<rect x="249.37" y="396.34" width="12.57" height="10.83" fill="#ffd500"/>
<rect x="273.90" y="396.34" width="12.57" height="10.83" fill="#ffe800"/>
<rect x="286.17" y="396.34" width="12.57" height="10.83" fill="#ffd500"/>
<rect x="310.70" y="396.34" width="12.57" height="10.83" fill="#ffe800"/>
<rect x="322.97" y="396.34" width="12.57" height="10.83" fill="#ffff00"/>
<rect x="335.24" y="396.34" width="12.57" height="10.83" fill="#ffe800"/>
<rect x="347.50" y="396.34" width="12.57" height="10.83" fill="#ffcd00"/>
<rect x="359.77" y="396.34" width="12.57" height="10.83" fill="#ffeb00"/>
<rect x="372.04" y="396.34" width="12.57" height="10.83" fill="#ffe600"/>
<rect x="384.30" y="396.34" width="12.57" height="10.83" fill="#ffb900"/>
<rect x="396.57" y="396.34" width="12.57" height="10.83" fill="#ffcd00"/>
<rect x="408.84" y="396.34" width="12.57" height="10.83" fill="#ffeb00"/>
<rect x="421.10" y="396.34" width="12.57" height="10.83" fill="#ffbe00"/>
<rect x="433.37" y="396.34" width="12.57" height="10.83" fill="#ffc800"/>
<rect x="445.64" y="396.34" width="12.57" height="10.83" fill="#ffcd00"/>
<rect x="457.90" y="396.34" width="12.57" height="10.83" fill="#ffc800"/>
<rect x="470.17" y="396.34" width="12.57" height="10.83" fill="#ffd700"/>
<rect x="482.44" y="396.34" width="12.57" height="10.83" fill="#fff500"/>
<rect x="494.70" y="396.34" width="37.10" height="10.83" fill="#ffc800"/>
<rect x="531.50" y="396.34" width="12.57" height="10.83" fill="#ffb900"/>
<rect x="543.77" y="396.34" width="12.57" height="10.83" fill="#ffe100"/>
<rect x="556.04" y="396.34" width="12.57" height="10.83" fill="#fff500"/>
<rect x="568.30" y="396.34" width="12.57" height="10.83" fill="#ffd700"/>
<rect x="580.57" y="396.34" width="12.57" height="10.83" fill="#ffc800"/>
<rect x="592.84" y="396.34" width="12.57" height="10.83" fill="#ffff00"/>
<rect x="605.10" y="396.34" width="12.57" height="10.83" fill="#ffe800"/>
<rect x="617.37" y="396.34" width="12.57" height="10.83" fill="#ffff00"/>
<rect x="629.64" y="396.34" width="12.57" height="10.83" fill="#ffd500"/>
<rect x="654.17" y="396.34" width="12.57" height="10.83" fill="#ffe800"/>
<rect x="678.70" y="396.34" width="24.83" height="10.83" fill="#ffff00"/>
<rect x="163.50" y="406.87" width="12.57" height="10.83" fill="#ffff00"/>
<rect x="175.77" y="406.87" width="12.57" height="10.83" fill="#ffd500"/>
<rect x="188.04" y="406.87" width="24.83" height="10.83" fill="#ffe800"/>
<rect x="224.84" y="406.87" width="37.10" height="10.83" fill="#ffff00"/>
<rect x="261.64" y="406.87" width="12.57" height="10.83" fill="#ffd500"/>
<rect x="273.90" y="406.87" width="12.57" height="10.83" fill="#ffff00"/>
<rect x="286.17" y="406.87" width="12.57" height="10.83" fill="#ffd500"/>
<rect x="298.44" y="406.87" width="12.57" height="10.83" fill="#ffe800"/>
<rect x="310.70" y="406.87" width="24.83" height="10.83" fill="#ffff00"/>
<rect x="335.24" y="406.87" width="12.57" height="10.83" fill="#ffd500"/>
<rect x="347.50" y="406.87" width="12.57" height="10.83" fill="#ffcd00"/>
<rect x="359.77" y="406.87" width="12.57" height="10.83" fill="#ffd700"/>
<rect x="372.04" y="406.87" width="24.83" height="10.83" fill="#ffeb00"/>
<rect x="396.57" y="406.87" width="12.57" height="10.83" fill="#ffd200"/>
<rect x="408.84" y="406.87" width="12.57" height="10.83" fill="#ffcd00"/>
<rect x="421.10" y="406.87" width="12.57" height="10.83" fill="#ffbe00"/>
<rect x="433.37" y="406.87" width="12.57" height="10.83" fill="#ffe100"/>
<rect x="445.64" y="406.87" width="12.57" height="10.83" fill="#ffcd00"/>
<rect x="457.90" y="406.87" width="12.57" height="10.83" fill="#fff000"/>
<rect x="482.44" y="406.87" width="12.57" height="10.83" fill="#fffa00"/>
<rect x="494.70" y="406.87" width="61.63" height="10.83" fill="#ffd700"/>
<rect x="556.04" y="406.87" width="24.83" height="10.83" fill="#ffe100"/>
<rect x="580.57" y="406.87" width="12.57" height="10.83" fill="#fffa00"/>
<rect x="592.84" y="406.87" width="12.57" height="10.83" fill="#ffe800"/>
<rect x="605.10" y="406.87" width="12.57" height="10.83" fill="#ffff00"/>
<rect x="629.64" y="406.87" width="37.10" height="10.83" fill="#ffe800"/>
<rect x="666.44" y="406.87" width="12.57" height="10.83" fill="#ffff00"/>
<rect x="175.77" y="417.40" width="24.83" height="10.83" fill="#ffe800"/>
<rect x="200.30" y="417.40" width="24.83" height="10.83" fill="#ffff00"/>
<rect x="224.84" y="417.40" width="24.83" height="10.83" fill="#ffe800"/>
<rect x="261.64" y="417.40" width="12.57" height="10.83" fill="#ffff00"/>
<rect x="273.90" y="417.40" width="12.57" height="10.83" fill="#ffe800"/>
<rect x="286.17" y="417.40" width="12.57" height="10.83" fill="#ffff00"/>
<rect x="298.44" y="417.40" width="37.10" height="10.83" fill="#ffe800"/>
<rect x="335.24" y="417.40" width="12.57" height="10.83" fill="#ffd500"/>
<rect x="347.50" y="417.40" width="12.57" height="10.83" fill="#ffff00"/>
<rect x="359.77" y="417.40" width="12.57" height="10.83" fill="#ffd500"/>
<rect x="372.04" y="417.40" width="12.57" height="10.83" fill="#ffe800"/>
<rect x="384.30" y="417.40" width="24.83" height="10.83" fill="#ffc300"/>
<rect x="408.84" y="417.40" width="12.57" height="10.83" fill="#ffe800"/>
<rect x="421.10" y="417.40" width="24.83" height="10.83" fill="#ffd500"/>
<rect x="445.64" y="417.40" width="37.10" height="10.83" fill="#ffe800"/>
<rect x="482.44" y="417.40" width="12.57" height="10.83" fill="#ffc300"/>
<rect x="494.70" y="417.40" width="12.57" height="10.83" fill="#ffe800"/>
<rect x="506.97" y="417.40" width="12.57" height="10.83" fill="#ffd500"/>
<rect x="519.24" y="417.40" width="24.83" height="10.83" fill="#ffe800"/>
<rect x="543.77" y="417.40" width="24.83" height="10.83" fill="#ffd500"/>
<rect x="568.30" y="417.40" width="12.57" height="10.83" fill="#ffe800"/>
<rect x="592.84" y="417.40" width="24.83" height="10.83" fill="#ffe800"/>
<rect x="617.37" y="417.40" width="12.57" height="10.83" fill="#ffff00"/>
<rect x="629.64" y="417.40" width="49.37" height="10.83" fill="#ffe800"/>
<rect x="678.70" y="417.40" width="12.57" height="10.83" fill="#ffff00"/>
<rect x="188.04" y="427.93" width="12.57" height="10.83" fill="#ffff00"/>
<rect x="200.30" y="427.93" width="12.57" height="10.83" fill="#ffd500"/>
<rect x="212.57" y="427.93" width="37.10" height="10.83" fill="#ffe800"/>
<rect x="286.17" y="427.93" width="12.57" height="10.83" fill="#ffff00"/>
<rect x="298.44" y="427.93" width="12.57" height="10.83" fill="#ffc300"/>
<rect x="310.70" y="427.93" width="12.57" height="10.83" fill="#ffff00"/>
<rect x="322.97" y="427.93" width="24.83" height="10.83" fill="#ffe800"/>
<rect x="347.50" y="427.93" width="12.57" height="10.83" fill="#ffff00"/>
<rect x="359.77" y="427.93" width="24.83" height="10.83" fill="#ffe800"/>
<rect x="396.57" y="427.93" width="12.57" height="10.83" fill="#ffd500"/>
<rect x="408.84" y="427.93" width="12.57" height="10.83" fill="#ffff00"/>
<rect x="421.10" y="427.93" width="12.57" height="10.83" fill="#ffd500"/>
<rect x="433.37" y="427.93" width="12.57" height="10.83" fill="#ffc300"/>
<rect x="445.64" y="427.93" width="24.83" height="10.83" fill="#ffd500"/>
<rect x="482.44" y="427.93" width="12.57" height="10.83" fill="#ffe800"/>
<rect x="494.70" y="427.93" width="12.57" height="10.83" fill="#ffc300"/>
<rect x="506.97" y="427.93" width="12.57" height="10.83" fill="#ffe800"/>
<rect x="519.24" y="427.93" width="12.57" height="10.83" fill="#ffff00"/>
<rect x="531.50" y="427.93" width="12.57" height="10.83" fill="#ffd500"/>
<rect x="543.77" y="427.93" width="12.57" height="10.83" fill="#ffc300"/>
<rect x="556.04" y="427.93" width="12.57" height="10.83" fill="#ffd500"/>
<rect x="568.30" y="427.93" width="24.83" height="10.83" fill="#ffe800"/>
<rect x="592.84" y="427.93" width="12.57" height="10.83" fill="#ffd500"/>
<rect x="617.37" y="427.93" width="24.83" height="10.83" fill="#ffe800"/>
<rect x="641.90" y="427.93" width="12.57" height="10.83" fill="#ffff00"/>
<rect x="212.57" y="438.45" width="12.57" height="10.83" fill="#ffe800"/>
<rect x="224.84" y="438.45" width="12.57" height="10.83" fill="#ffff00"/>
<rect x="237.10" y="438.45" width="24.83" height="10.83" fill="#ffe800"/>
<rect x="261.64" y="438.45" width="12.57" height="10.83" fill="#ffff00"/>
<rect x="273.90" y="438.45" width="24.83" height="10.83" fill="#ffe800"/>
<rect x="298.44" y="438.45" width="12.57" height="10.83" fill="#ffff00"/>
<rect x="310.70" y="438.45" width="12.57" height="10.83" fill="#ffd500"/>
<rect x="322.97" y="438.45" width="24.83" height="10.83" fill="#ffe800"/>
<rect x="347.50" y="438.45" width="12.57" height="10.83" fill="#ffff00"/>
<rect x="359.77" y="438.45" width="12.57" height="10.83" fill="#ffe800"/>
<rect x="372.04" y="438.45" width="12.57" height="10.83" fill="#ffd500"/>
<rect x="384.30" y="438.45" width="12.57" height="10.83" fill="#ffe800"/>
<rect x="396.57" y="438.45" width="12.57" height="10.83" fill="#ffff00"/>
<rect x="421.10" y="438.45" width="49.37" height="10.83" fill="#ffe800"/>
<rect x="482.44" y="438.45" width="12.57" height="10.83" fill="#ffff00"/>
<rect x="494.70" y="438.45" width="12.57" height="10.83" fill="#ffe800"/>
<rect x="506.97" y="438.45" width="12.57" height="10.83" fill="#ffff00"/>
<rect x="519.24" y="438.45" width="12.57" height="10.83" fill="#ffe800"/>
<rect x="531.50" y="438.45" width="12.57" height="10.83" fill="#ffd500"/>
<rect x="543.77" y="438.45" width="12.57" height="10.83" fill="#ffe800"/>
<rect x="556.04" y="438.45" width="12.57" height="10.83" fill="#ffd500"/>
<rect x="568.30" y="438.45" width="73.90" height="10.83" fill="#ffe800"/>
<rect x="654.17" y="438.45" width="12.57" height="10.83" fill="#ffff00"/>
<rect x="212.57" y="448.98" width="37.10" height="10.83" fill="#ffff00"/>
<rect x="249.37" y="448.98" width="12.57" height="10.83" fill="#ffe800"/>
<rect x="261.64" y="448.98" width="24.83" height="10.83" fill="#ffff00"/>
<rect x="298.44" y="448.98" width="12.57" height="10.83" fill="#ffff00"/>
<rect x="310.70" y="448.98" width="12.57" height="10.83" fill="#ffe800"/>
<rect x="322.97" y="448.98" width="12.57" height="10.83" fill="#ffd500"/>
<rect x="335.24" y="448.98" width="12.57" height="10.83" fill="#ffe800"/>
<rect x="347.50" y="448.98" width="12.57" height="10.83" fill="#ffff00"/>
<rect x="384.30" y="448.98" width="12.57" height="10.83" fill="#ffe800"/>
<rect x="396.57" y="448.98" width="12.57" height="10.83" fill="#ffd500"/>
<rect x="408.84" y="448.98" width="12.57" height="10.83" fill="#ffe800"/>
<rect x="421.10" y="448.98" width="12.57" height="10.83" fill="#ffd500"/>
<rect x="433.37" y="448.98" width="12.57" height="10.83" fill="#ffe800"/>
<rect x="445.64" y="448.98" width="12.57" height="10.83" fill="#ffd500"/>
<rect x="457.90" y="448.98" width="12.57" height="10.83" fill="#ffe800"/>
<rect x="470.17" y="448.98" width="12.57" height="10.83" fill="#ffd500"/>
<rect x="482.44" y="448.98" width="24.83" height="10.83" fill="#ffe800"/>
<rect x="519.24" y="448.98" width="12.57" height="10.83" fill="#ffff00"/>
<rect x="531.50" y="448.98" width="12.57" height="10.83" fill="#ffe800"/>
<rect x="543.77" y="448.98" width="12.57" height="10.83" fill="#ffd500"/>
<rect x="556.04" y="448.98" width="12.57" height="10.83" fill="#ffe800"/>
<rect x="568.30" y="448.98" width="24.83" height="10.83" fill="#ffd500"/>
<rect x="617.37" y="448.98" width="12.57" height="10.83" fill="#ffe800"/>
<rect x="641.90" y="448.98" width="12.57" height="10.83" fill="#ffff00"/>
<rect x="237.10" y="459.51" width="24.83" height="10.83" fill="#ffff00"/>
<rect x="261.64" y="459.51" width="12.57" height="10.83" fill="#ffe800"/>
<rect x="273.90" y="459.51" width="24.83" height="10.83" fill="#ffff00"/>
<rect x="298.44" y="459.51" width="12.57" height="10.83" fill="#ffe800"/>
<rect x="322.97" y="459.51" width="12.57" height="10.83" fill="#ffd500"/>
<rect x="335.24" y="459.51" width="12.57" height="10.83" fill="#ffff00"/>
<rect x="347.50" y="459.51" width="12.57" height="10.83" fill="#ffe800"/>
<rect x="372.04" y="459.51" width="12.57" height="10.83" fill="#ffe800"/>
<rect x="384.30" y="459.51" width="12.57" height="10.83" fill="#ffff00"/>
<rect x="396.57" y="459.51" width="24.83" height="10.83" fill="#ffe800"/>
<rect x="421.10" y="459.51" width="12.57" height="10.83" fill="#ffff00"/>
<rect x="433.37" y="459.51" width="12.57" height="10.83" fill="#ffe800"/>
<rect x="445.64" y="459.51" width="12.57" height="10.83" fill="#ffd500"/>
<rect x="457.90" y="459.51" width="12.57" height="10.83" fill="#ffe800"/>
<rect x="470.17" y="459.51" width="12.57" height="10.83" fill="#ffff00"/>
<rect x="482.44" y="459.51" width="24.83" height="10.83" fill="#ffe800"/>
<rect x="506.97" y="459.51" width="49.37" height="10.83" fill="#ffff00"/>
<rect x="556.04" y="459.51" width="12.57" height="10.83" fill="#ffd500"/>
<rect x="568.30" y="459.51" width="37.10" height="10.83" fill="#ffe800"/>
<rect x="605.10" y="459.51" width="12.57" height="10.83" fill="#ffd500"/>
<rect x="617.37" y="459.51" width="12.57" height="10.83" fill="#ffe800"/>
<rect x="273.90" y="470.04" width="37.10" height="10.83" fill="#ffe800"/>
<rect x="310.70" y="470.04" width="12.57" height="10.83" fill="#ffff00"/>
<rect x="335.24" y="470.04" width="12.57" height="10.83" fill="#ffff00"/>
<rect x="347.50" y="470.04" width="24.83" height="10.83" fill="#ffe800"/>
<rect x="372.04" y="470.04" width="12.57" height="10.83" fill="#ffff00"/>
<rect x="384.30" y="470.04" width="12.57" height="10.83" fill="#ffe800"/>
<rect x="396.57" y="470.04" width="12.57" height="10.83" fill="#ffff00"/>
<rect x="408.84" y="470.04" width="12.57" height="10.83" fill="#ffe800"/>
<rect x="421.10" y="470.04" width="12.57" height="10.83" fill="#ffff00"/>
<rect x="433.37" y="470.04" width="12.57" height="10.83" fill="#ffe800"/>
<rect x="445.64" y="470.04" width="12.57" height="10.83" fill="#ffff00"/>
<rect x="457.90" y="470.04" width="12.57" height="10.83" fill="#ffd500"/>
<rect x="470.17" y="470.04" width="37.10" height="10.83" fill="#ffe800"/>
<rect x="506.97" y="470.04" width="37.10" height="10.83" fill="#ffff00"/>
<rect x="556.04" y="470.04" width="12.57" height="10.83" fill="#ffff00"/>
<rect x="568.30" y="470.04" width="12.57" height="10.83" fill="#ffd500"/>
<rect x="580.57" y="470.04" width="37.10" height="10.83" fill="#ffe800"/>
<rect x="273.90" y="480.57" width="24.83" height="10.83" fill="#ffe800"/>
<rect x="298.44" y="480.57" width="12.57" height="10.83" fill="#ffff00"/>
<rect x="310.70" y="480.57" width="24.83" height="10.83" fill="#ffe800"/>
<rect x="335.24" y="480.57" width="12.57" height="10.83" fill="#ffff00"/>
<rect x="359.77" y="480.57" width="12.57" height="10.83" fill="#ffe800"/>
<rect x="384.30" y="480.57" width="24.83" height="10.83" fill="#ffe800"/>
<rect x="421.10" y="480.57" width="37.10" height="10.83" fill="#ffe800"/>
<rect x="457.90" y="480.57" width="24.83" height="10.83" fill="#ffff00"/>
<rect x="494.70" y="480.57" width="12.57" height="10.83" fill="#ffff00"/>
<rect x="506.97" y="480.57" width="12.57" height="10.83" fill="#ffe800"/>
<rect x="519.24" y="480.57" width="24.83" height="10.83" fill="#ffff00"/>
<rect x="556.04" y="480.57" width="12.57" height="10.83" fill="#ffe800"/>
<rect x="310.70" y="491.09" width="37.10" height="10.83" fill="#ffe800"/>
<rect x="347.50" y="491.09" width="12.57" height="10.83" fill="#ffff00"/>
<rect x="384.30" y="491.09" width="24.83" height="10.83" fill="#ffe800"/>
<rect x="408.84" y="491.09" width="12.57" height="10.83" fill="#ffff00"/>
<rect x="433.37" y="491.09" width="12.57" height="10.83" fill="#ffff00"/>
<rect x="445.64" y="491.09" width="12.57" height="10.83" fill="#ffe800"/>
<rect x="470.17" y="491.09" width="49.37" height="10.83" fill="#ffe800"/>
<rect x="519.24" y="491.09" width="12.57" height="10.83" fill="#ffff00"/>
<rect x="359.77" y="501.62" width="12.57" height="10.83" fill="#ffe800"/>
<rect x="396.57" y="501.62" width="12.57" height="10.83" fill="#ffff00"/>
<rect x="408.84" y="501.62" width="12.57" height="10.83" fill="#ffe800"/>
<rect x="433.37" y="501.62" width="12.57" height="10.83" fill="#ffff00"/>
<rect x="445.64" y="501.62" width="12.57" height="10.83" fill="#ffc300"/>
<rect x="457.90" y="501.62" width="12.57" height="10.83" fill="#ffe800"/>
<rect x="470.17" y="501.62" width="12.57" height="10.83" fill="#ffff00"/>
<rect x="494.70" y="501.62" width="12.57" height="10.83" fill="#ffff00"/>
</g>
<g clip-path="url(#pc)" fill="none" stroke-linecap="butt" stroke-linejoin="round">
<path d="M100.0 146.0 L105.0 150.0 L111.0 155.5 L119.0 158.8 L125.0 162.0 L132.5 163.5 L139.0 162.5 L146.0 167.5 L151.0 175.0 L154.0 185.0 L160.0 195.0 L165.5 205.0 L172.5 215.0 L183.8 229.5 L193.8 230.8 L205.0 236.2 L220.0 245.0 L235.0 253.0 L248.8 257.0 L257.5 254.5 L270.0 258.0 L285.0 262.0 L300.0 265.5 L307.5 269.5 L315.0 272.0 L322.5 272.5 L332.5 276.2 L341.2 280.0 L355.0 283.8 L380.0 286.0 L407.5 288.8 L417.5 293.8 L427.5 300.0 L436.2 306.2 L441.2 301.2 L448.8 296.2 L460.0 293.0 L472.5 291.2 L482.5 290.0 L490.0 290.0 L500.0 291.0 L513.8 289.5 L515.5 287.5" stroke="#000" stroke-width="1.2"/>
<path d="M560.0 286.2 L580.0 285.0 L597.5 286.2 L610.0 291.2 L625.0 301.2 L640.0 315.0 L652.5 330.0 L662.5 345.0 L672.5 361.2 L675.0 365.0 L686.2 382.5 L690.5 391.2 L690.0 406.2 L685.0 410.5 L675.0 416.2 L668.0 425.0 L672.5 433.8 L678.0 442.5 L687.5 446.2 L693.8 443.8 L708.8 445.5 L720.0 451.2 L736.2 458.8 L750.0 460.8 L765.5 462.0" stroke="#000" stroke-width="1.2"/>
<path d="M100.0 85.0 L140.0 80.8 L192.5 70.5 L215.5 59.5" stroke="#7e7e7e" stroke-width="2.15"/>
<path d="M140.0 98.0 L237.5 82.0 L270.0 78.0" stroke="#7e7e7e" stroke-width="2.15"/>
<path d="M100.0 128.8 L131.2 128.8" stroke="#7e7e7e" stroke-width="2.15"/>
<path d="M219.5 70.5 L248.0 78.3 L269.6 78.0 L286.5 83.0 L298.8 84.6 L330.3 85.2 L347.5 72.5 L354.2 70.7 L360.5 70.7 L363.6 80.5 L369.0 86.5 L398.7 95.6 L421.0 93.2 L463.5 77.9" stroke="#7e7e7e" stroke-width="2.15"/>
<path d="M100.0 153.8 L115.0 157.0 L202.5 157.0 L220.0 146.2 L237.3 132.6 L271.1 109.5 L311.9 91.0" stroke="#7e7e7e" stroke-width="2.15"/>
<path d="M186.2 170.0 L237.5 161.8 L257.5 141.2 L271.1 132.5 L292.7 121.8 L337.5 115.0 L387.5 107.0 L432.5 104.5 L452.5 97.0 L487.5 98.0" stroke="#7e7e7e" stroke-width="2.15"/>
<path d="M255.0 193.0 L287.5 181.2 L300.0 180.5 L318.8 183.2 L360.0 176.2 L386.2 174.2 L425.0 163.8 L467.5 156.2 L500.0 149.0 L530.0 148.8 L550.0 156.2 L582.5 168.8 L620.0 178.8 L652.5 186.8" stroke="#7e7e7e" stroke-width="2.15"/>
<path d="M467.5 77.0 L482.5 76.2 L500.0 72.5 L518.8 70.5 L540.0 71.2 L567.5 78.8 L615.0 92.5 L640.0 102.0 L675.0 113.8 L710.0 123.0 L742.5 132.0 L755.0 137.5 L765.5 143.0" stroke="#7e7e7e" stroke-width="2.15"/>
<path d="M541.2 41.2 L582.5 73.8 L615.0 92.5" stroke="#7e7e7e" stroke-width="2.15"/>
<path d="M468.8 80.8 L500.0 81.8 L510.0 82.5 L523.8 91.2 L542.5 95.0 L567.5 105.0 L595.0 120.5 L640.0 127.5 L672.5 136.2 L699.0 144.0" stroke="#7e7e7e" stroke-width="2.15"/>
<path d="M493.0 87.5 L523.8 91.2" stroke="#7e7e7e" stroke-width="2.15"/>
<path d="M460.0 118.0 L500.0 123.8 L537.5 130.0 L552.5 136.2 L575.0 138.8 L595.0 148.8 L610.0 146.0 L627.0 136.0 L655.0 135.0 L675.0 149.5 L678.8 153.8 L705.0 158.8 L732.5 163.0 L750.0 160.8" stroke="#7e7e7e" stroke-width="2.15"/>
<path d="M752.0 161.8 L757.5 170.0 L765.5 174.2" stroke="#7e7e7e" stroke-width="2.15"/>
<path d="M630.0 157.5 L675.0 148.8" stroke="#7e7e7e" stroke-width="2.15"/>
<path d="M588.8 163.0 L650.0 160.8 L670.0 168.8 L707.5 190.0 L755.0 203.8 L765.5 210.0" stroke="#7e7e7e" stroke-width="2.15"/>
<path d="M127.5 272.0 L167.5 270.5 L205.0 272.5 L255.0 275.5 L300.0 278.0" stroke="#7e7e7e" stroke-width="2.15"/>
<path d="M100.0 305.8 L156.2 293.0" stroke="#7e7e7e" stroke-width="2.15"/>
<path d="M100.0 318.0 L158.0 316.0" stroke="#7e7e7e" stroke-width="2.15"/>
<path d="M176.2 339.2 L226.2 320.8 L240.0 320.5 L300.0 322.5 L358.8 334.5 L430.0 328.8 L504.5 315.5" stroke="#7e7e7e" stroke-width="2.15"/>
<path d="M300.0 278.0 L357.5 282.5 L405.0 287.0 L440.0 290.0 L482.5 290.5 L500.0 289.5 L515.0 287.0 L560.0 287.0 L607.5 291.2 L632.5 290.5 L650.0 285.5 L677.5 270.5 L700.0 256.2 L720.0 252.0 L747.5 248.0 L765.5 246.2" stroke="#7e7e7e" stroke-width="2.15"/>
<path d="M672.5 265.5 L685.0 261.2 L700.0 256.2" stroke="#7e7e7e" stroke-width="2.15"/>
<path d="M683.0 270.5 L742.5 276.2" stroke="#7e7e7e" stroke-width="2.15"/>
<path d="M715.0 263.0 L736.2 258.2" stroke="#7e7e7e" stroke-width="2.15"/>
<path d="M748.8 248.0 L765.5 258.0" stroke="#7e7e7e" stroke-width="2.15"/>
<path d="M730.5 278.0 L765.5 290.5" stroke="#7e7e7e" stroke-width="2.15"/>
<path d="M747.5 276.2 L765.5 286.2" stroke="#7e7e7e" stroke-width="2.15"/>
<path d="M692.0 284.5 L700.0 296.2 L707.5 307.5 L715.0 326.2 L736.2 342.5 L747.5 345.0 L765.5 363.8" stroke="#7e7e7e" stroke-width="2.15"/>
<path d="M441.2 338.0 L485.0 356.2 L495.0 368.0 L500.0 376.2 L515.0 391.2 L540.0 418.8 L575.0 450.0 L607.5 480.0 L622.5 496.2 L633.8 514.0" stroke="#7e7e7e" stroke-width="2.15"/>
<path d="M507.5 369.5 L522.5 386.2 L562.5 413.8 L613.8 428.8 L643.8 445.5" stroke="#7e7e7e" stroke-width="2.15"/>
<path d="M547.5 306.2 L557.5 321.2 L571.2 341.2 L584.0 351.0 L595.0 358.5 L618.8 372.0 L660.0 387.5 L690.0 396.2 L765.5 422.0" stroke="#7e7e7e" stroke-width="2.15"/>
<path d="M588.8 322.5 L607.5 341.2 L618.0 351.0 L630.0 361.2 L662.5 380.0 L680.0 395.0 L690.0 403.8 L730.0 418.8 L765.5 436.2" stroke="#7e7e7e" stroke-width="2.15"/>
<path d="M604.5 415.5 L690.0 405.5" stroke="#7e7e7e" stroke-width="2.15"/>
<path d="M100.0 366.0 L106.0 370.0 L194.3 418.0 L225.0 435.4 L261.9 458.5 L286.5 472.3 L311.1 490.8 L348.0 509.2 L358.0 514.5" stroke="#7e7e7e" stroke-width="2.15"/>
<path d="M368.0 373.2 L408.8 401.2 L449.2 429.5" stroke="#7e7e7e" stroke-width="2.15"/>
<path d="M108.8 41.2 L113.8 63.8" stroke="#787878" stroke-width="1.15" stroke-dasharray="1.1 1.7"/>
<path d="M100.0 65.0 L113.8 63.8" stroke="#808080" stroke-width="0.85"/>
<path d="M113.8 63.8 L135.0 60.5 L157.5 56.2 L187.5 51.8 L220.0 49.5 L247.5 45.5 L287.5 42.0 L300.0 40.8" stroke="#787878" stroke-width="1.15" stroke-dasharray="1.1 1.7"/>
<path d="M155.0 41.2 L158.0 56.2" stroke="#808080" stroke-width="0.85"/>
<path d="M200.0 41.2 L202.5 50.5" stroke="#787878" stroke-width="1.15" stroke-dasharray="1.1 1.7"/>
<path d="M221.8 41.2 L219.5 70.5" stroke="#808080" stroke-width="0.85"/>
<path d="M120.0 85.0 L122.0 95.5" stroke="#787878" stroke-width="1.15" stroke-dasharray="1.1 1.7"/>
<path d="M131.2 84.2 L132.5 93.8" stroke="#787878" stroke-width="1.15" stroke-dasharray="1.1 1.7"/>
<path d="M145.5 81.8 L146.2 92.5" stroke="#787878" stroke-width="1.15" stroke-dasharray="1.1 1.7"/>
<path d="M170.0 76.2 L171.2 87.5" stroke="#787878" stroke-width="1.15" stroke-dasharray="1.1 1.7"/>
<path d="M194.5 71.2 L195.5 82.5" stroke="#787878" stroke-width="1.15" stroke-dasharray="1.1 1.7"/>
<path d="M215.5 59.5 L217.0 72.5" stroke="#787878" stroke-width="1.15" stroke-dasharray="1.1 1.7"/>
<path d="M100.0 98.0 L122.0 95.5" stroke="#808080" stroke-width="0.85"/>
<path d="M122.0 95.5 L132.5 93.8 L146.2 92.5 L171.2 87.5 L195.5 82.5 L217.0 72.5" stroke="#787878" stroke-width="1.15" stroke-dasharray="1.1 1.7"/>
<path d="M132.5 93.8 L131.2 126.2" stroke="#787878" stroke-width="1.15" stroke-dasharray="1.1 1.7"/>
<path d="M100.0 124.0 L110.0 126.2 L131.2 126.8" stroke="#808080" stroke-width="0.85"/>
<path d="M131.2 126.2 L187.5 126.2" stroke="#787878" stroke-width="1.15" stroke-dasharray="1.1 1.7"/>
<path d="M140.0 98.0 L147.5 126.2 L153.8 156.2" stroke="#808080" stroke-width="0.85"/>
<path d="M141.2 98.8 L153.8 145.0 L162.5 180.0 L168.8 205.0" stroke="#787878" stroke-width="1.15" stroke-dasharray="1.1 1.7"/>
<path d="M187.5 126.2 L200.0 117.5 L225.0 103.8 L250.0 90.0 L275.0 75.0 L300.0 61.2" stroke="#787878" stroke-width="1.15" stroke-dasharray="1.1 1.7"/>
<path d="M187.5 126.2 L198.0 156.8" stroke="#808080" stroke-width="0.85"/>
<path d="M205.0 88.8 L220.0 137.5 L230.0 180.0 L236.2 205.0" stroke="#787878" stroke-width="1" stroke-dasharray="1.5 1.1"/>
<path d="M210.0 87.5 L225.0 135.0 L240.0 180.0 L247.5 205.0" stroke="#787878" stroke-width="1.15" stroke-dasharray="1.1 1.7"/>
<path d="M225.0 103.8 L235.0 137.5 L250.0 172.5 L260.0 197.5" stroke="#787878" stroke-width="1.15" stroke-dasharray="1.1 1.7"/>
<path d="M260.0 80.0 L272.5 115.0 L290.0 160.0 L300.0 180.0" stroke="#787878" stroke-width="1.15" stroke-dasharray="1.1 1.7"/>
<path d="M272.5 78.0 L285.0 112.5 L300.0 145.0" stroke="#787878" stroke-width="1" stroke-dasharray="1.5 1.1"/>
<path d="M186.2 170.0 L196.2 205.0" stroke="#787878" stroke-width="1.15" stroke-dasharray="1.1 1.7"/>
<path d="M245.0 160.0 L275.0 151.2 L300.0 150.0" stroke="#787878" stroke-width="1.15" stroke-dasharray="1.1 1.7"/>
<path d="M245.0 160.0 L260.0 197.5 L255.0 193.0" stroke="#787878" stroke-width="1.15" stroke-dasharray="1.1 1.7"/>
<path d="M277.5 151.2 L287.5 180.0" stroke="#787878" stroke-width="1.15" stroke-dasharray="1.1 1.7"/>
<path d="M351.2 41.2 L350.0 71.2" stroke="#787878" stroke-width="1.15" stroke-dasharray="1.1 1.7"/>
<path d="M402.0 41.2 L398.8 95.5" stroke="#808080" stroke-width="0.85"/>
<path d="M465.0 41.2 L463.8 78.0" stroke="#787878" stroke-width="1.15" stroke-dasharray="1.1 1.7"/>
<path d="M300.0 58.8 L312.0 91.0" stroke="#787878" stroke-width="1.15" stroke-dasharray="1.1 1.7"/>
<path d="M300.0 153.8 L325.0 150.0 L350.0 147.0 L387.5 141.2 L420.0 133.8 L455.0 127.5 L500.0 123.8" stroke="#787878" stroke-width="1.15" stroke-dasharray="1.1 1.7"/>
<path d="M300.0 165.0 L312.5 157.5 L337.5 150.0 L387.5 143.8 L440.0 142.5 L475.0 132.5 L500.0 126.2" stroke="#787878" stroke-width="1" stroke-dasharray="1.5 1.1"/>
<path d="M308.8 150.0 L323.8 178.8" stroke="#787878" stroke-width="1.15" stroke-dasharray="1.1 1.7"/>
<path d="M350.0 147.0 L361.2 176.2" stroke="#787878" stroke-width="1.15" stroke-dasharray="1.1 1.7"/>
<path d="M387.5 141.2 L397.5 171.2" stroke="#787878" stroke-width="1.15" stroke-dasharray="1.1 1.7"/>
<path d="M420.0 133.8 L432.5 162.5" stroke="#787878" stroke-width="1.15" stroke-dasharray="1.1 1.7"/>
<path d="M360.0 115.0 L375.0 150.0" stroke="#787878" stroke-width="1.15" stroke-dasharray="1.1 1.7"/>
<path d="M422.5 107.5 L443.8 142.5" stroke="#787878" stroke-width="1.15" stroke-dasharray="1.1 1.7"/>
<path d="M300.0 135.0 L308.8 150.0" stroke="#787878" stroke-width="1.15" stroke-dasharray="1.1 1.7"/>
<path d="M472.5 65.0 L500.0 68.0" stroke="#787878" stroke-width="1.15" stroke-dasharray="1.1 1.7"/>
<path d="M472.5 65.0 L465.0 97.5 L457.5 127.5 L467.5 156.2" stroke="#787878" stroke-width="1.15" stroke-dasharray="1.1 1.7"/>
<path d="M495.0 87.5 L480.0 120.0 L462.5 145.0" stroke="#787878" stroke-width="1.15" stroke-dasharray="1.1 1.7"/>
<path d="M460.0 107.5 L500.0 108.0" stroke="#787878" stroke-width="1.15" stroke-dasharray="1.1 1.7"/>
<path d="M456.2 128.8 L500.0 115.0" stroke="#787878" stroke-width="1" stroke-dasharray="1.5 1.1"/>
<path d="M127.5 272.0 L129.5 261.2 L151.2 260.0" stroke="#787878" stroke-width="1.15" stroke-dasharray="1.1 1.7"/>
<path d="M151.2 260.0 L180.5 261.0" stroke="#808080" stroke-width="0.85"/>
<path d="M180.5 261.2 L206.2 262.0 L230.0 263.0 L257.0 264.5 L283.2 266.2 L300.0 267.0" stroke="#787878" stroke-width="1.15" stroke-dasharray="1.1 1.7"/>
<path d="M152.5 270.5 L151.2 260.0" stroke="#787878" stroke-width="1.15" stroke-dasharray="1.1 1.7"/>
<path d="M179.5 270.5 L180.5 261.2" stroke="#787878" stroke-width="1.15" stroke-dasharray="1.1 1.7"/>
<path d="M205.0 272.0 L206.2 262.0" stroke="#787878" stroke-width="1.15" stroke-dasharray="1.1 1.7"/>
<path d="M231.2 273.0 L230.0 263.0" stroke="#787878" stroke-width="1.15" stroke-dasharray="1.1 1.7"/>
<path d="M256.2 275.0 L257.0 264.5" stroke="#787878" stroke-width="1.15" stroke-dasharray="1.1 1.7"/>
<path d="M282.0 276.2 L283.2 266.2" stroke="#787878" stroke-width="1.15" stroke-dasharray="1.1 1.7"/>
<path d="M143.8 205.0 L151.2 260.0 L154.5 291.2" stroke="#787878" stroke-width="1.15" stroke-dasharray="1.1 1.7"/>
<path d="M167.5 270.5 L168.0 266.2 L186.2 258.8 L217.5 248.8 L228.8 248.0" stroke="#787878" stroke-width="1.15" stroke-dasharray="1.1 1.7"/>
<path d="M228.8 248.0 L300.0 249.5" stroke="#787878" stroke-width="1.15" stroke-dasharray="1.1 1.7"/>
<path d="M228.8 248.0 L232.5 280.0 L238.2 320.5" stroke="#787878" stroke-width="1.15" stroke-dasharray="1.1 1.7"/>
<path d="M167.5 270.5 L176.2 339.2" stroke="#787878" stroke-width="1.15" stroke-dasharray="1.1 1.7"/>
<path d="M173.8 205.0 L185.0 242.5 L250.0 231.2 L241.2 205.0" stroke="#787878" stroke-width="1.15" stroke-dasharray="1.1 1.7"/>
<path d="M250.0 231.2 L300.0 223.8" stroke="#787878" stroke-width="1.15" stroke-dasharray="1.1 1.7"/>
<path d="M205.0 205.0 L208.8 208.0 L240.0 205.0" stroke="#787878" stroke-width="1.15" stroke-dasharray="1.1 1.7"/>
<path d="M361.2 272.5 L383.8 275.0 L408.8 277.5 L433.8 279.2 L458.8 280.0 L483.8 280.5 L500.0 280.0" stroke="#787878" stroke-width="1.15" stroke-dasharray="1.1 1.7"/>
<path d="M383.8 275.0 L383.2 284.5" stroke="#787878" stroke-width="1.15" stroke-dasharray="1.1 1.7"/>
<path d="M408.8 277.5 L408.2 287.0" stroke="#787878" stroke-width="1.15" stroke-dasharray="1.1 1.7"/>
<path d="M433.8 279.2 L433.2 289.5" stroke="#787878" stroke-width="1.15" stroke-dasharray="1.1 1.7"/>
<path d="M458.8 280.0 L458.5 290.0" stroke="#787878" stroke-width="1.15" stroke-dasharray="1.1 1.7"/>
<path d="M483.8 280.5 L483.2 290.5" stroke="#787878" stroke-width="1.15" stroke-dasharray="1.1 1.7"/>
<path d="M307.5 268.8 L307.0 278.0" stroke="#787878" stroke-width="1.15" stroke-dasharray="1.1 1.7"/>
<path d="M333.8 269.5 L333.2 280.0" stroke="#787878" stroke-width="1.15" stroke-dasharray="1.1 1.7"/>
<path d="M359.5 271.2 L358.8 281.2" stroke="#787878" stroke-width="1.15" stroke-dasharray="1.1 1.7"/>
<path d="M300.0 251.2 L347.5 262.0 L361.2 260.5" stroke="#787878" stroke-width="1.15" stroke-dasharray="1.1 1.7"/>
<path d="M361.2 260.5 L428.8 254.5 L493.8 243.0" stroke="#808080" stroke-width="0.85"/>
<path d="M493.8 243.0 L500.0 266.2" stroke="#787878" stroke-width="1.15" stroke-dasharray="1.1 1.7"/>
<path d="M428.8 254.5 L432.5 280.0 L436.2 306.2 L438.0 326.2" stroke="#787878" stroke-width="1.15" stroke-dasharray="1.1 1.7"/>
<path d="M361.2 260.5 L362.5 272.5 L371.2 332.5" stroke="#808080" stroke-width="0.85"/>
<path d="M300.0 278.8 L305.5 322.5" stroke="#808080" stroke-width="0.85"/>
<path d="M300.0 267.0 L307.5 268.8 L333.8 269.5 L359.5 271.2" stroke="#787878" stroke-width="1.15" stroke-dasharray="1.1 1.7"/>
<path d="M375.0 368.8 L430.0 328.8 L500.0 280.0" stroke="#787878" stroke-width="1.15" stroke-dasharray="1.1 1.7"/>
<path d="M310.0 205.0 L314.5 222.5 L300.0 225.0" stroke="#787878" stroke-width="1.15" stroke-dasharray="1.1 1.7"/>
<path d="M443.8 337.0 L487.5 354.5 L497.5 367.5" stroke="#787878" stroke-width="1.15" stroke-dasharray="1.1 1.7"/>
<path d="M500.0 279.5 L568.8 228.0" stroke="#787878" stroke-width="1" stroke-dasharray="1.5 1.1"/>
<path d="M568.8 228.0 L628.8 267.5" stroke="#787878" stroke-width="1.15" stroke-dasharray="1.1 1.7"/>
<path d="M500.0 277.5 L508.8 277.0 L533.8 277.5 L558.8 278.8 L583.8 280.0 L608.8 282.5" stroke="#787878" stroke-width="1.15" stroke-dasharray="1.1 1.7"/>
<path d="M508.8 277.0 L508.2 286.2" stroke="#787878" stroke-width="1.15" stroke-dasharray="1.1 1.7"/>
<path d="M533.8 277.5 L533.2 287.0" stroke="#787878" stroke-width="1.15" stroke-dasharray="1.1 1.7"/>
<path d="M558.8 278.8 L558.5 287.0" stroke="#787878" stroke-width="1.15" stroke-dasharray="1.1 1.7"/>
<path d="M583.8 280.0 L583.5 288.8" stroke="#787878" stroke-width="1.15" stroke-dasharray="1.1 1.7"/>
<path d="M608.8 282.5 L609.0 291.2" stroke="#787878" stroke-width="1.15" stroke-dasharray="1.1 1.7"/>
<path d="M500.0 277.5 L504.5 315.5" stroke="#787878" stroke-width="1.15" stroke-dasharray="1.1 1.7"/>
<path d="M582.5 269.5 L628.8 267.5" stroke="#787878" stroke-width="1" stroke-dasharray="1.5 1.1"/>
<path d="M582.5 269.5 L586.2 288.8" stroke="#787878" stroke-width="1.15" stroke-dasharray="1.1 1.7"/>
<path d="M628.8 267.5 L637.5 287.5" stroke="#787878" stroke-width="1.15" stroke-dasharray="1.1 1.7"/>
<path d="M628.8 267.5 L662.5 261.2 L690.0 258.8" stroke="#787878" stroke-width="1.15" stroke-dasharray="1.1 1.7"/>
<path d="M662.5 236.2 L700.0 227.5" stroke="#787878" stroke-width="1.15" stroke-dasharray="1.1 1.7"/>
<path d="M662.5 236.2 L675.0 266.2" stroke="#787878" stroke-width="1.15" stroke-dasharray="1.1 1.7"/>
<path d="M687.5 237.5 L685.0 261.2" stroke="#787878" stroke-width="1.15" stroke-dasharray="1.1 1.7"/>
<path d="M660.0 205.0 L700.0 240.0" stroke="#787878" stroke-width="1" stroke-dasharray="1.5 1.1"/>
<path d="M368.0 373.2 L400.0 350.0" stroke="#808080" stroke-width="0.85"/>
<path d="M745.0 412.5 L765.5 393.8" stroke="#787878" stroke-width="1" stroke-dasharray="1.5 1.1"/>
<path d="M502.5 378.0 L517.0 393.0 L542.0 420.5 L577.0 451.8 L609.5 481.8 L624.5 498.0 L635.8 515.0" stroke="#787878" stroke-width="1" stroke-dasharray="1.5 1.1"/>
<path d="M470.0 71.1 L472.3 64.9 L520.7 68.8 L556.1 79.5 L593.0 86.4" stroke="#787878" stroke-width="1.15" stroke-dasharray="1.1 1.7"/>
<path d="M472.3 64.9 L511.5 69.5" stroke="#787878" stroke-width="1" stroke-dasharray="1.5 1.1"/>
<path d="M519.2 71.1 L516.9 79.5 L511.5 105.7 L506.9 133.0" stroke="#787878" stroke-width="1.15" stroke-dasharray="1.1 1.7"/>
<path d="M530.7 72.6 L528.4 84.1 L522.3 114.9 L519.2 127.2" stroke="#787878" stroke-width="1.15" stroke-dasharray="1.1 1.7"/>
<path d="M550.7 41.1 L536.1 73.4 L520.7 121.0 L519.2 127.2" stroke="#787878" stroke-width="1" stroke-dasharray="1.5 1.1"/>
<path d="M566.9 82.6 L562.3 105.7 L556.1 133.0" stroke="#787878" stroke-width="1.15" stroke-dasharray="1.1 1.7"/>
<path d="M587.6 87.2 L580.7 114.9 L576.1 133.0" stroke="#787878" stroke-width="1.15" stroke-dasharray="1.1 1.7"/>
<path d="M497.7 84.1 L488.5 104.1 L476.2 133.0" stroke="#787878" stroke-width="1.15" stroke-dasharray="1.1 1.7"/>
<path d="M511.5 91.8 L506.9 107.2 L500.8 133.0" stroke="#787878" stroke-width="1.15" stroke-dasharray="1.1 1.7"/>
<path d="M470.0 107.2 L491.5 108.0 L500.8 108.7 L506.9 113.3" stroke="#787878" stroke-width="1.15" stroke-dasharray="1.1 1.7"/>
<path d="M593.0 52.6 L576.1 67.2" stroke="#787878" stroke-width="1" stroke-dasharray="1.5 1.1"/>
<path d="M470.0 130.3 L493.1 118.0 L494.6 108.0" stroke="#787878" stroke-width="1.15" stroke-dasharray="1.1 1.7"/>
<path d="M593.0 42.6 L628.4 56.5 L649.9 62.6 L706.8 75.7 L703.7 82.6" stroke="#787878" stroke-width="1.15" stroke-dasharray="1.1 1.7"/>
<path d="M613.0 41.1 L639.1 58.8 L697.6 80.3 L716.0 84.9" stroke="#787878" stroke-width="1.15" stroke-dasharray="1.1 1.7"/>
<path d="M604.5 41.1 L593.0 52.6" stroke="#787878" stroke-width="1" stroke-dasharray="1.5 1.1"/>
<path d="M628.4 56.5 L616.1 90.3 L608.4 114.9 L605.3 133.0" stroke="#787878" stroke-width="1" stroke-dasharray="1.5 1.1"/>
<path d="M649.9 62.6 L616.1 90.3" stroke="#787878" stroke-width="1" stroke-dasharray="1.5 1.1"/>
<path d="M638.4 83.4 L633.0 101.0 L629.9 133.0" stroke="#787878" stroke-width="1.15" stroke-dasharray="1.1 1.7"/>
<path d="M616.1 90.3 L638.4 83.4" stroke="#787878" stroke-width="1" stroke-dasharray="1.5 1.1"/>
<path d="M633.7 95.7 L674.5 87.5 L680.6 91.8" stroke="#787878" stroke-width="1" stroke-dasharray="1.5 1.1"/>
<path d="M674.5 87.5 L673.7 111.8 L673.0 133.0" stroke="#787878" stroke-width="1.15" stroke-dasharray="1.1 1.7"/>
<path d="M680.6 91.8 L716.0 97.2" stroke="#787878" stroke-width="1.15" stroke-dasharray="1.1 1.7"/>
<path d="M697.6 80.3 L662.2 109.5" stroke="#787878" stroke-width="1" stroke-dasharray="1.5 1.1"/>
<path d="M702.9 82.6 L691.4 107.2 L682.2 133.0" stroke="#787878" stroke-width="1.15" stroke-dasharray="1.1 1.7"/>
<path d="M710.6 98.0 L709.9 133.0" stroke="#787878" stroke-width="1.15" stroke-dasharray="1.1 1.7"/>
<path d="M593.0 114.1 L631.4 113.3 L679.1 114.1 L680.6 121.0" stroke="#787878" stroke-width="1.15" stroke-dasharray="1.1 1.7"/>
<path d="M599.2 114.9 L593.0 130.3" stroke="#787878" stroke-width="1.15" stroke-dasharray="1.1 1.7"/>
<path d="M677.0 67.2 L706.2 75.7 L701.6 82.6" stroke="#787878" stroke-width="1.15" stroke-dasharray="1.1 1.7"/>
<path d="M677.0 74.1 L697.0 80.3 L744.7 94.1 L765.4 99.5" stroke="#787878" stroke-width="1.15" stroke-dasharray="1.1 1.7"/>
<path d="M697.0 80.3 L677.0 97.2" stroke="#787878" stroke-width="1" stroke-dasharray="1.5 1.1"/>
<path d="M703.1 82.6 L692.4 105.7 L680.1 133.0" stroke="#787878" stroke-width="1.15" stroke-dasharray="1.1 1.7"/>
<path d="M677.0 91.8 L697.0 96.1 L723.1 101.0 L752.3 99.5" stroke="#787878" stroke-width="1.15" stroke-dasharray="1.1 1.7"/>
<path d="M710.1 98.7 L709.3 133.0" stroke="#787878" stroke-width="1.15" stroke-dasharray="1.1 1.7"/>
<path d="M744.7 94.1 L712.4 123.3 L703.1 133.0" stroke="#787878" stroke-width="1" stroke-dasharray="1.5 1.1"/>
<path d="M752.3 99.5 L752.3 133.0" stroke="#787878" stroke-width="1.15" stroke-dasharray="1.1 1.7"/>
<path d="M764.6 101.0 L760.8 133.0" stroke="#787878" stroke-width="1.15" stroke-dasharray="1.1 1.7"/>
<path d="M626.1 136.1 L605.3 179.1 L602.2 186.8" stroke="#787878" stroke-width="1" stroke-dasharray="1.5 1.1"/>
<path d="M636.8 133.0 L629.9 159.1 L626.1 186.8 L624.5 191.4" stroke="#787878" stroke-width="1.15" stroke-dasharray="1.1 1.7"/>
<path d="M653.0 133.0 L643.7 159.1 L631.4 183.7 L626.1 191.4" stroke="#787878" stroke-width="1.15" stroke-dasharray="1.1 1.7"/>
<path d="M673.0 136.1 L662.2 171.4 L653.0 194.5 L622.2 228.0" stroke="#787878" stroke-width="1.15" stroke-dasharray="1.1 1.7"/>
<path d="M676.0 136.1 L665.3 173.0 L654.5 197.6" stroke="#787878" stroke-width="1" stroke-dasharray="1.5 1.1"/>
<path d="M593.0 184.5 L602.2 186.8 L626.1 186.8 L654.5 196.0 L665.3 203.0" stroke="#787878" stroke-width="1.15" stroke-dasharray="1.1 1.7"/>
<path d="M624.5 191.4 L653.0 199.1 L665.3 203.0" stroke="#787878" stroke-width="1" stroke-dasharray="1.5 1.1"/>
<path d="M703.7 133.0 L685.3 159.1 L666.8 200.7" stroke="#787878" stroke-width="1" stroke-dasharray="1.5 1.1"/>
<path d="M654.5 196.0 L679.1 228.0" stroke="#787878" stroke-width="1" stroke-dasharray="1.5 1.1"/>
<path d="M691.4 209.9 L709.9 205.3 L714.5 219.1 L699.1 228.0" stroke="#787878" stroke-width="1.15" stroke-dasharray="1.1 1.7"/>
<path d="M608.4 133.0 L593.0 162.2" stroke="#787878" stroke-width="1.15" stroke-dasharray="1.1 1.7"/>
<path d="M677.0 233.4 L690.8 238.8 L718.5 241.5 L747.7 243.4" stroke="#787878" stroke-width="1.15" stroke-dasharray="1.1 1.7"/>
<path d="M690.8 238.8 L684.7 258.8 L683.2 268.0" stroke="#787878" stroke-width="1.15" stroke-dasharray="1.1 1.7"/>
<path d="M700.1 228.0 L706.2 241.8 L714.7 259.5" stroke="#787878" stroke-width="1.15" stroke-dasharray="1.1 1.7"/>
<path d="M712.4 228.0 L718.5 241.5 L724.7 258.8" stroke="#787878" stroke-width="1.15" stroke-dasharray="1.1 1.7"/>
<path d="M723.1 228.0 L730.8 243.4 L737.0 257.2" stroke="#787878" stroke-width="1.15" stroke-dasharray="1.1 1.7"/>
<path d="M744.7 228.0 L749.3 243.4 L751.6 248.0" stroke="#787878" stroke-width="1" stroke-dasharray="1.5 1.1"/>
<path d="M677.0 231.1 L697.0 251.1 L714.7 259.5 L713.9 273.4" stroke="#787878" stroke-width="1.15" stroke-dasharray="1.1 1.7"/>
<path d="M677.0 281.8 L723.1 243.4 L765.4 215.7" stroke="#787878" stroke-width="1" stroke-dasharray="1.5 1.1"/>
<path d="M677.0 317.2 L727.7 274.1 L765.4 238.8" stroke="#787878" stroke-width="1" stroke-dasharray="1.5 1.1"/>
<path d="M729.3 323.0 L765.4 291.0" stroke="#787878" stroke-width="1" stroke-dasharray="1.5 1.1"/>
<path d="M740.0 266.4 L765.4 274.1" stroke="#787878" stroke-width="1.15" stroke-dasharray="1.1 1.7"/>
<path d="M765.4 237.2 L750.8 248.0 L743.1 276.0" stroke="#787878" stroke-width="1.15" stroke-dasharray="1.1 1.7"/>
<path d="M693.9 282.6 L701.6 294.1 L710.1 308.0" stroke="#787878" stroke-width="1.15" stroke-dasharray="1.1 1.7"/>
<path d="M708.5 133.0 L707.8 157.6" stroke="#787878" stroke-width="1.15" stroke-dasharray="1.1 1.7"/>
<path d="M750.8 133.0 L749.3 160.7" stroke="#787878" stroke-width="1.15" stroke-dasharray="1.1 1.7"/>
<path d="M760.8 133.0 L752.3 162.2" stroke="#787878" stroke-width="1.15" stroke-dasharray="1.1 1.7"/>
<path d="M715.4 133.0 L727.7 139.2 L749.3 151.5 L765.4 156.1" stroke="#787878" stroke-width="1.15" stroke-dasharray="1.1 1.7"/>
<path d="M703.9 133.0 L677.0 165.3" stroke="#787878" stroke-width="1" stroke-dasharray="1.5 1.1"/>
<path d="M749.3 151.5 L715.4 189.9 L677.0 228.3" stroke="#787878" stroke-width="1" stroke-dasharray="1.5 1.1"/>
<path d="M765.4 203.7 L738.5 228.0" stroke="#787878" stroke-width="1" stroke-dasharray="1.5 1.1"/>
<path d="M692.4 206.8 L712.4 204.5 L718.5 228.0" stroke="#787878" stroke-width="1.15" stroke-dasharray="1.1 1.7"/>
<path d="M677.0 216.0 L701.6 206.8 L744.7 219.1 L765.4 216.0" stroke="#787878" stroke-width="1.15" stroke-dasharray="1.1 1.7"/>
<path d="M692.4 206.8 L698.5 228.0" stroke="#787878" stroke-width="1.15" stroke-dasharray="1.1 1.7"/>
<path d="M703.1 208.3 L710.1 228.0" stroke="#787878" stroke-width="1.15" stroke-dasharray="1.1 1.7"/>
<path d="M740.8 219.1 L744.7 228.0" stroke="#787878" stroke-width="1.15" stroke-dasharray="1.1 1.7"/>
<path d="M677.0 225.3 L700.1 224.5 L738.5 219.1 L765.4 216.8" stroke="#787878" stroke-width="1.15" stroke-dasharray="1.1 1.7"/>
<path d="M470.0 148.4 L505.4 153.0 L520.7 159.9 L542.3 169.9 L565.3 179.1 L593.0 184.5" stroke="#787878" stroke-width="1.15" stroke-dasharray="1.1 1.7"/>
<path d="M514.6 133.0 L506.1 153.0" stroke="#787878" stroke-width="1.15" stroke-dasharray="1.1 1.7"/>
<path d="M560.7 137.6 L542.3 169.9" stroke="#787878" stroke-width="1.15" stroke-dasharray="1.1 1.7"/>
<path d="M591.5 133.0 L583.8 179.1" stroke="#787878" stroke-width="1.15" stroke-dasharray="1.1 1.7"/>
<path d="M245.0 163.0 L275.7 151.5 L292.7 152.2 L312.6 161.4 L297.3 168.4 L277.3 176.8 L271.1 183.7 L258.1 192.2" stroke="#787878" stroke-width="1.15" stroke-dasharray="1.1 1.7"/>
<path d="M245.0 163.0 L258.1 192.2" stroke="#787878" stroke-width="1.15" stroke-dasharray="1.1 1.7"/>
<path d="M278.0 151.5 L288.0 179.1" stroke="#787878" stroke-width="1" stroke-dasharray="1.5 1.1"/>
<path d="M288.0 133.0 L297.3 168.4 L314.2 222.2" stroke="#787878" stroke-width="1.15" stroke-dasharray="1.1 1.7"/>
<path d="M298.8 133.0 L311.1 156.1 L323.4 179.9" stroke="#787878" stroke-width="1.15" stroke-dasharray="1.1 1.7"/>
<path d="M225.0 205.3 L258.1 199.1" stroke="#787878" stroke-width="1.15" stroke-dasharray="1.1 1.7"/>
<path d="M274.2 228.0 L314.2 222.2" stroke="#787878" stroke-width="1.15" stroke-dasharray="1.1 1.7"/>
<path d="M288.8 41.0 L286.5 83.0" stroke="#787878" stroke-width="1.15" stroke-dasharray="1.1 1.7"/>
<path d="M100.0 203.0 L142.0 197.0 L152.0 292.0" stroke="#787878" stroke-width="1.15" stroke-dasharray="1.1 1.7"/>
<path d="M408.8 401.2 L480.0 350.0 L562.5 290.0 L620.0 242.5 L650.0 222.5 L680.0 200.0" stroke="#787878" stroke-width="1" stroke-dasharray="1.5 1.1"/>
<path d="M449.2 429.5 L480.0 406.2 L545.0 357.5 L630.0 290.0 L700.0 232.5 L745.0 200.0" stroke="#787878" stroke-width="1" stroke-dasharray="1.5 1.1"/>
<path d="M507.5 370.0 L547.5 337.5 L605.0 290.0 L700.0 212.0" stroke="#787878" stroke-width="1" stroke-dasharray="1.5 1.1"/>
<path d="M562.5 413.8 L620.0 365.0 L677.0 317.2" stroke="#787878" stroke-width="1" stroke-dasharray="1.5 1.1"/>
<path d="M643.8 445.5 L700.0 395.0 L747.5 350.0 L765.5 333.0" stroke="#787878" stroke-width="1" stroke-dasharray="1.5 1.1"/>
</g>
<rect x="99.5" y="41.5" width="666" height="473" fill="none" stroke="#8c8c8c" stroke-width="1" shape-rendering="crispEdges"/>
<text x="400.5" y="23" font-size="25.5" font-weight="bold" text-anchor="middle" textLength="289" lengthAdjust="spacingAndGlyphs">1 Week M≥3 Forecast</text>
<text x="90.5" y="51.1" font-size="20.4" text-anchor="end" textLength="41.8" lengthAdjust="spacingAndGlyphs">34.5</text>
<text x="90.5" y="182.7" font-size="20.4" text-anchor="end" textLength="54.4" lengthAdjust="spacingAndGlyphs">34.25</text>
<text x="90.5" y="314.2" font-size="20.4" text-anchor="end" textLength="24.2" lengthAdjust="spacingAndGlyphs">34</text>
<text x="90.5" y="445.8" font-size="20.4" text-anchor="end" textLength="54.4" lengthAdjust="spacingAndGlyphs">33.75</text>
<text x="163.0" y="538" font-size="20.4" text-anchor="middle" textLength="74" lengthAdjust="spacingAndGlyphs">-119.25</text>
<text x="316.3" y="538" font-size="20.4" text-anchor="middle" textLength="43.5" lengthAdjust="spacingAndGlyphs">-119</text>
<text x="469.7" y="538" font-size="20.4" text-anchor="middle" textLength="74" lengthAdjust="spacingAndGlyphs">-118.75</text>
<text x="623.0" y="538" font-size="20.4" text-anchor="middle" textLength="61.5" lengthAdjust="spacingAndGlyphs">-118.5</text>
<text x="432.6" y="567.3" font-size="23.2" text-anchor="middle" textLength="107.5" lengthAdjust="spacingAndGlyphs">Longitude</text>
<text transform="translate(25,277.4) rotate(-90)" font-size="24.2" text-anchor="middle" textLength="90" lengthAdjust="spacingAndGlyphs">Latitude</text>
<g shape-rendering="crispEdges">
<rect x="50" y="581" width="36.3" height="15" fill="#ffff00"/>
<rect x="86" y="581" width="35.3" height="15" fill="#ffe900"/>
<rect x="121" y="581" width="35.3" height="15" fill="#ffd400"/>
<rect x="156" y="581" width="35.3" height="15" fill="#ffbe00"/>
<rect x="191" y="581" width="35.3" height="15" fill="#ffa800"/>
<rect x="226" y="581" width="35.3" height="15" fill="#ff9400"/>
<rect x="261" y="581" width="35.3" height="15" fill="#ff7c00"/>
<rect x="296" y="581" width="35.3" height="15" fill="#ff6200"/>
<rect x="331" y="581" width="35.3" height="15" fill="#ff4600"/>
<rect x="366" y="581" width="35.3" height="15" fill="#f22000"/>
<rect x="401" y="581" width="35.3" height="15" fill="#dc0a00"/>
<rect x="436" y="581" width="35.3" height="15" fill="#c40200"/>
<rect x="471" y="581" width="35.3" height="15" fill="#ae0000"/>
<rect x="506" y="581" width="35.3" height="15" fill="#960000"/>
<rect x="541" y="581" width="35.3" height="15" fill="#7e0000"/>
<rect x="576" y="581" width="35.3" height="15" fill="#680000"/>
<rect x="611" y="581" width="35.3" height="15" fill="#520000"/>
<rect x="646" y="581" width="35.3" height="15" fill="#3c0000"/>
<rect x="681" y="581" width="35.3" height="15" fill="#260000"/>
<rect x="716" y="581" width="34.3" height="15" fill="#000000"/>
<rect x="49.5" y="580.5" width="701" height="16" fill="none" stroke="#9a9a9a" stroke-width="1"/>
<g stroke="#9a9a9a" stroke-width="1">
<line x1="50.5" y1="596" x2="50.5" y2="599"/>
<line x1="120.5" y1="596" x2="120.5" y2="599"/>
<line x1="190.5" y1="596" x2="190.5" y2="599"/>
<line x1="260.5" y1="596" x2="260.5" y2="599"/>
<line x1="330.5" y1="596" x2="330.5" y2="599"/>
<line x1="400.5" y1="596" x2="400.5" y2="599"/>
<line x1="470.5" y1="596" x2="470.5" y2="599"/>
<line x1="540.5" y1="596" x2="540.5" y2="599"/>
<line x1="610.5" y1="596" x2="610.5" y2="599"/>
<line x1="680.5" y1="596" x2="680.5" y2="599"/>
<line x1="750.5" y1="596" x2="750.5" y2="599"/>
</g></g>
<text x="50" y="619" font-size="20.4" text-anchor="middle" textLength="36.5" lengthAdjust="spacingAndGlyphs">-5.0</text>
<text x="120" y="619" font-size="20.4" text-anchor="middle" textLength="36.5" lengthAdjust="spacingAndGlyphs">-4.5</text>
<text x="190" y="619" font-size="20.4" text-anchor="middle" textLength="36.5" lengthAdjust="spacingAndGlyphs">-4.0</text>
<text x="260" y="619" font-size="20.4" text-anchor="middle" textLength="36.5" lengthAdjust="spacingAndGlyphs">-3.5</text>
<text x="330" y="619" font-size="20.4" text-anchor="middle" textLength="36.5" lengthAdjust="spacingAndGlyphs">-3.0</text>
<text x="400" y="619" font-size="20.4" text-anchor="middle" textLength="36.5" lengthAdjust="spacingAndGlyphs">-2.5</text>
<text x="470" y="619" font-size="20.4" text-anchor="middle" textLength="36.5" lengthAdjust="spacingAndGlyphs">-2.0</text>
<text x="540" y="619" font-size="20.4" text-anchor="middle" textLength="36.5" lengthAdjust="spacingAndGlyphs">-1.5</text>
<text x="610" y="619" font-size="20.4" text-anchor="middle" textLength="36.5" lengthAdjust="spacingAndGlyphs">-1.0</text>
<text x="680" y="619" font-size="20.4" text-anchor="middle" textLength="36.5" lengthAdjust="spacingAndGlyphs">-0.5</text>
<text x="750" y="619" font-size="20.4" text-anchor="middle" textLength="30" lengthAdjust="spacingAndGlyphs">0.0</text>
<text x="400.5" y="648" font-size="23.2" text-anchor="middle" textLength="344" lengthAdjust="spacingAndGlyphs">Log10 Probability M≥3, 1 Week</text>
</svg></body></html>
